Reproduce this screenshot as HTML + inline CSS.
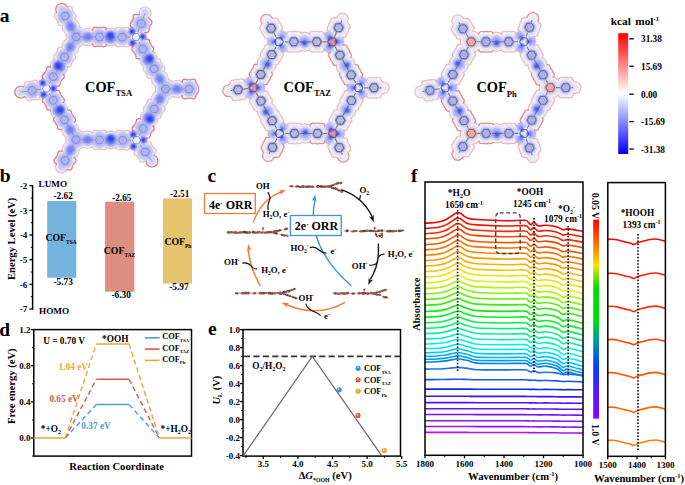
<!DOCTYPE html>
<html><head><meta charset="utf-8"><style>
html,body{margin:0;padding:0;background:#fff;width:685px;height:485px;overflow:hidden}
svg{display:block}
text{font-family:"Liberation Serif",serif;font-weight:bold}
</style></head><body>
<svg width="685" height="485" viewBox="0 0 685 485" font-family="Liberation Serif" font-weight="bold">
<defs>
<filter id="blur1" x="-20%" y="-20%" width="140%" height="140%"><feGaussianBlur stdDeviation="1"/></filter>
<filter id="blur05" x="-20%" y="-20%" width="140%" height="140%"><feGaussianBlur stdDeviation="0.5"/></filter>
<filter id="blur08" x="-20%" y="-20%" width="140%" height="140%"><feGaussianBlur stdDeviation="0.8"/></filter>
<filter id="blur15" x="-20%" y="-20%" width="140%" height="140%"><feGaussianBlur stdDeviation="1.5"/></filter>
<filter id="blur03" x="-20%" y="-20%" width="140%" height="140%"><feGaussianBlur stdDeviation="0.3"/></filter>
<filter id="blur07" x="-20%" y="-20%" width="140%" height="140%"><feGaussianBlur stdDeviation="0.7"/></filter>
<filter id="blur12" x="-20%" y="-20%" width="140%" height="140%"><feGaussianBlur stdDeviation="1.2"/></filter>
<linearGradient id="cbar" x1="0" y1="0" x2="0" y2="1">
<stop offset="0" stop-color="#ff0000"/><stop offset="0.5" stop-color="#ffffff"/><stop offset="1" stop-color="#0000ff"/>
</linearGradient>
<linearGradient id="rainbow" x1="0" y1="0" x2="0" y2="1">
<stop offset="0" stop-color="#ff0000"/><stop offset="0.14" stop-color="#ff8000"/><stop offset="0.23" stop-color="#ffe000"/>
<stop offset="0.34" stop-color="#00e000"/><stop offset="0.50" stop-color="#00e000"/><stop offset="0.6" stop-color="#00a0a0"/>
<stop offset="0.73" stop-color="#0040ff"/><stop offset="0.84" stop-color="#4020ff"/><stop offset="1" stop-color="#9000ff"/>
</linearGradient>
</defs>
<rect width="685" height="485" fill="#fff"/>
<text x="-0.2" y="22.4" font-size="19.5" text-anchor="start" fill="#000" >a</text>
<g fill="#e8c4c8" filter="url(#blur05)"><circle cx="87.6" cy="36.9" r="9.2"/><circle cx="110.6" cy="37.0" r="9.4"/><circle cx="122.2" cy="37.0" r="10.1"/><circle cx="126.3" cy="44.3" r="3.3"/><circle cx="118.1" cy="44.2" r="3.3"/><circle cx="126.4" cy="29.9" r="3.3"/><circle cx="118.2" cy="29.8" r="3.3"/><circle cx="159.9" cy="79.1" r="9.2"/><circle cx="154.0" cy="68.8" r="10.1"/><circle cx="158.2" cy="61.6" r="3.3"/><circle cx="162.3" cy="68.8" r="3.3"/><circle cx="145.7" cy="68.7" r="3.3"/><circle cx="149.8" cy="75.9" r="3.3"/><circle cx="148.5" cy="59.2" r="9.4"/><circle cx="160.0" cy="98.7" r="9.2"/><circle cx="154.2" cy="109.0" r="10.1"/><circle cx="145.9" cy="109.1" r="3.3"/><circle cx="150.0" cy="101.9" r="3.3"/><circle cx="158.5" cy="116.1" r="3.3"/><circle cx="162.5" cy="109.0" r="3.3"/><circle cx="148.9" cy="118.5" r="9.4"/><circle cx="87.5" cy="139.8" r="9.2"/><circle cx="99.6" cy="139.9" r="10.1"/><circle cx="103.7" cy="147.2" r="3.3"/><circle cx="95.4" cy="147.1" r="3.3"/><circle cx="103.8" cy="132.8" r="3.3"/><circle cx="95.6" cy="132.7" r="3.3"/><circle cx="110.8" cy="140.0" r="9.4"/><circle cx="122.7" cy="140.2" r="10.1"/><circle cx="126.7" cy="147.4" r="3.3"/><circle cx="118.5" cy="147.3" r="3.3"/><circle cx="126.9" cy="133.0" r="3.3"/><circle cx="118.6" cy="132.9" r="3.3"/><circle cx="70.4" cy="130.0" r="9.2"/><circle cx="59.0" cy="110.3" r="9.4"/><circle cx="70.6" cy="46.6" r="9.2"/><circle cx="64.6" cy="57.0" r="10.1"/><circle cx="56.3" cy="57.0" r="3.3"/><circle cx="60.4" cy="49.8" r="3.3"/><circle cx="68.8" cy="64.1" r="3.3"/><circle cx="72.9" cy="57.0" r="3.3"/><circle cx="59.1" cy="66.5" r="9.4"/><circle cx="70.8" cy="26.6" r="9.2"/><circle cx="65.2" cy="16.0" r="10.1"/><circle cx="69.7" cy="9.0" r="3.3"/><circle cx="73.5" cy="16.3" r="3.3"/><circle cx="56.9" cy="15.7" r="3.3"/><circle cx="60.8" cy="23.0" r="3.3"/><circle cx="76.2" cy="36.8" r="10.8"/><circle cx="145.2" cy="12.8" r="6.6"/><circle cx="136.0" cy="37.1" r="10.8"/><circle cx="177.0" cy="89.0" r="9.2"/><circle cx="193.0" cy="89.0" r="6.6"/><circle cx="165.5" cy="89.0" r="10.8"/><circle cx="145.3" cy="151.9" r="10.1"/><circle cx="141.9" cy="159.5" r="3.3"/><circle cx="137.0" cy="152.9" r="3.3"/><circle cx="153.5" cy="150.9" r="3.3"/><circle cx="148.6" cy="144.3" r="3.3"/><circle cx="136.6" cy="140.3" r="10.8"/><circle cx="70.6" cy="149.9" r="9.2"/><circle cx="61.5" cy="167.1" r="6.6"/><circle cx="76.0" cy="139.7" r="10.8"/><circle cx="32.1" cy="90.5" r="10.1"/><circle cx="27.1" cy="84.0" r="3.3"/><circle cx="35.2" cy="82.8" r="3.3"/><circle cx="29.1" cy="98.2" r="3.3"/><circle cx="37.2" cy="97.1" r="3.3"/><circle cx="46.5" cy="88.5" r="10.8"/></g>
<g fill="#e07c7c" filter="url(#blur07)"><circle cx="99.5" cy="36.9" r="10.1"/><circle cx="103.6" cy="44.1" r="3.3"/><circle cx="95.4" cy="44.1" r="3.3"/><circle cx="103.7" cy="29.7" r="3.3"/><circle cx="95.4" cy="29.7" r="3.3"/><circle cx="142.8" cy="49.0" r="10.1"/><circle cx="147.0" cy="41.9" r="3.3"/><circle cx="151.1" cy="49.1" r="3.3"/><circle cx="134.5" cy="49.0" r="3.3"/><circle cx="138.6" cy="56.2" r="3.3"/><circle cx="143.2" cy="128.5" r="10.1"/><circle cx="134.9" cy="128.6" r="3.3"/><circle cx="139.0" cy="121.4" r="3.3"/><circle cx="147.5" cy="135.6" r="3.3"/><circle cx="151.5" cy="128.4" r="3.3"/><circle cx="64.5" cy="119.7" r="10.1"/><circle cx="68.7" cy="112.6" r="3.3"/><circle cx="72.8" cy="119.7" r="3.3"/><circle cx="56.2" cy="119.7" r="3.3"/><circle cx="60.3" cy="126.9" r="3.3"/><circle cx="53.3" cy="100.3" r="10.1"/><circle cx="57.5" cy="93.1" r="3.3"/><circle cx="61.6" cy="100.2" r="3.3"/><circle cx="45.0" cy="100.3" r="3.3"/><circle cx="49.1" cy="107.4" r="3.3"/><circle cx="53.3" cy="76.6" r="10.1"/><circle cx="45.0" cy="76.6" r="3.3"/><circle cx="49.1" cy="69.4" r="3.3"/><circle cx="57.5" cy="83.8" r="3.3"/><circle cx="61.6" cy="76.6" r="3.3"/><circle cx="61.7" cy="9.4" r="6.6"/><circle cx="141.1" cy="23.5" r="10.1"/><circle cx="149.3" cy="22.2" r="3.3"/><circle cx="146.4" cy="29.9" r="3.3"/><circle cx="135.8" cy="17.1" r="3.3"/><circle cx="132.9" cy="24.8" r="3.3"/><circle cx="189.0" cy="89.0" r="10.1"/><circle cx="193.1" cy="96.2" r="3.3"/><circle cx="184.9" cy="96.2" r="3.3"/><circle cx="193.1" cy="81.8" r="3.3"/><circle cx="184.9" cy="81.8" r="3.3"/><circle cx="152.0" cy="161.0" r="6.6"/><circle cx="65.0" cy="160.5" r="10.1"/><circle cx="56.7" cy="160.7" r="3.3"/><circle cx="60.6" cy="153.5" r="3.3"/><circle cx="69.4" cy="167.5" r="3.3"/><circle cx="73.3" cy="160.2" r="3.3"/><circle cx="20.8" cy="92.1" r="6.6"/></g>
<g fill="#f5f4f8" filter="url(#blur07)"><circle cx="87.6" cy="36.9" r="7.9"/><circle cx="99.5" cy="36.9" r="8.8"/><circle cx="103.5" cy="44.0" r="2.2"/><circle cx="95.5" cy="43.9" r="2.2"/><circle cx="103.6" cy="29.9" r="2.2"/><circle cx="95.5" cy="29.9" r="2.2"/><circle cx="110.6" cy="37.0" r="8.1"/><circle cx="122.2" cy="37.0" r="8.8"/><circle cx="126.2" cy="44.1" r="2.2"/><circle cx="118.2" cy="44.0" r="2.2"/><circle cx="126.3" cy="30.0" r="2.2"/><circle cx="118.3" cy="30.0" r="2.2"/><circle cx="159.9" cy="79.1" r="7.9"/><circle cx="154.0" cy="68.8" r="8.8"/><circle cx="158.1" cy="61.8" r="2.2"/><circle cx="162.1" cy="68.8" r="2.2"/><circle cx="145.9" cy="68.7" r="2.2"/><circle cx="149.9" cy="75.7" r="2.2"/><circle cx="148.5" cy="59.2" r="8.1"/><circle cx="142.8" cy="49.0" r="8.8"/><circle cx="146.9" cy="42.1" r="2.2"/><circle cx="150.9" cy="49.1" r="2.2"/><circle cx="134.7" cy="49.0" r="2.2"/><circle cx="138.7" cy="56.0" r="2.2"/><circle cx="160.0" cy="98.7" r="7.9"/><circle cx="154.2" cy="109.0" r="8.8"/><circle cx="146.1" cy="109.1" r="2.2"/><circle cx="150.1" cy="102.1" r="2.2"/><circle cx="158.4" cy="116.0" r="2.2"/><circle cx="162.3" cy="109.0" r="2.2"/><circle cx="148.9" cy="118.5" r="8.1"/><circle cx="143.2" cy="128.5" r="8.8"/><circle cx="135.1" cy="128.6" r="2.2"/><circle cx="139.1" cy="121.5" r="2.2"/><circle cx="147.4" cy="135.5" r="2.2"/><circle cx="151.3" cy="128.5" r="2.2"/><circle cx="87.5" cy="139.8" r="7.9"/><circle cx="99.6" cy="139.9" r="8.8"/><circle cx="103.6" cy="147.0" r="2.2"/><circle cx="95.5" cy="146.9" r="2.2"/><circle cx="103.7" cy="132.9" r="2.2"/><circle cx="95.7" cy="132.9" r="2.2"/><circle cx="110.8" cy="140.0" r="8.1"/><circle cx="122.7" cy="140.2" r="8.8"/><circle cx="126.6" cy="147.2" r="2.2"/><circle cx="118.6" cy="147.2" r="2.2"/><circle cx="126.8" cy="133.2" r="2.2"/><circle cx="118.7" cy="133.1" r="2.2"/><circle cx="70.4" cy="130.0" r="7.9"/><circle cx="64.5" cy="119.7" r="8.8"/><circle cx="68.6" cy="112.7" r="2.2"/><circle cx="72.6" cy="119.7" r="2.2"/><circle cx="56.4" cy="119.7" r="2.2"/><circle cx="60.4" cy="126.7" r="2.2"/><circle cx="59.0" cy="110.3" r="8.1"/><circle cx="53.3" cy="100.3" r="8.8"/><circle cx="57.4" cy="93.3" r="2.2"/><circle cx="61.4" cy="100.2" r="2.2"/><circle cx="45.2" cy="100.3" r="2.2"/><circle cx="49.2" cy="107.3" r="2.2"/><circle cx="70.6" cy="46.6" r="7.9"/><circle cx="64.6" cy="57.0" r="8.8"/><circle cx="56.5" cy="57.0" r="2.2"/><circle cx="60.5" cy="50.0" r="2.2"/><circle cx="68.7" cy="64.0" r="2.2"/><circle cx="72.7" cy="57.0" r="2.2"/><circle cx="59.1" cy="66.5" r="8.1"/><circle cx="53.3" cy="76.6" r="8.8"/><circle cx="45.2" cy="76.6" r="2.2"/><circle cx="49.2" cy="69.6" r="2.2"/><circle cx="57.4" cy="83.6" r="2.2"/><circle cx="61.4" cy="76.6" r="2.2"/><circle cx="70.8" cy="26.6" r="7.9"/><circle cx="65.2" cy="16.0" r="8.8"/><circle cx="69.6" cy="9.2" r="2.2"/><circle cx="73.3" cy="16.3" r="2.2"/><circle cx="57.1" cy="15.7" r="2.2"/><circle cx="60.9" cy="22.9" r="2.2"/><circle cx="61.7" cy="9.4" r="5.3"/><circle cx="76.2" cy="36.8" r="9.5"/><circle cx="141.1" cy="23.5" r="8.8"/><circle cx="149.1" cy="22.2" r="2.2"/><circle cx="146.3" cy="29.8" r="2.2"/><circle cx="136.0" cy="17.3" r="2.2"/><circle cx="133.1" cy="24.8" r="2.2"/><circle cx="145.2" cy="12.8" r="5.3"/><circle cx="136.0" cy="37.1" r="9.5"/><circle cx="177.0" cy="89.0" r="7.9"/><circle cx="189.0" cy="89.0" r="8.8"/><circle cx="193.0" cy="96.0" r="2.2"/><circle cx="185.0" cy="96.0" r="2.2"/><circle cx="193.0" cy="82.0" r="2.2"/><circle cx="185.0" cy="82.0" r="2.2"/><circle cx="193.0" cy="89.0" r="5.3"/><circle cx="165.5" cy="89.0" r="9.5"/><circle cx="145.3" cy="151.9" r="8.8"/><circle cx="142.0" cy="159.4" r="2.2"/><circle cx="137.2" cy="152.9" r="2.2"/><circle cx="153.3" cy="151.0" r="2.2"/><circle cx="148.5" cy="144.5" r="2.2"/><circle cx="152.0" cy="161.0" r="5.3"/><circle cx="136.6" cy="140.3" r="9.5"/><circle cx="70.6" cy="149.9" r="7.9"/><circle cx="65.0" cy="160.5" r="8.8"/><circle cx="56.9" cy="160.7" r="2.2"/><circle cx="60.7" cy="153.6" r="2.2"/><circle cx="69.3" cy="167.3" r="2.2"/><circle cx="73.1" cy="160.2" r="2.2"/><circle cx="61.5" cy="167.1" r="5.3"/><circle cx="76.0" cy="139.7" r="9.5"/><circle cx="32.1" cy="90.5" r="8.8"/><circle cx="27.2" cy="84.1" r="2.2"/><circle cx="35.1" cy="83.0" r="2.2"/><circle cx="29.1" cy="98.0" r="2.2"/><circle cx="37.1" cy="96.9" r="2.2"/><circle cx="20.8" cy="92.1" r="5.3"/><circle cx="46.5" cy="88.5" r="9.5"/></g>
<g fill="#cdd0f6" filter="url(#blur1)"><circle cx="87.6" cy="36.9" r="6.6"/><circle cx="99.5" cy="36.9" r="7.5"/><circle cx="110.6" cy="37.0" r="6.8"/><circle cx="122.2" cy="37.0" r="7.5"/><circle cx="159.9" cy="79.1" r="6.6"/><circle cx="154.0" cy="68.8" r="7.5"/><circle cx="148.5" cy="59.2" r="6.8"/><circle cx="142.8" cy="49.0" r="7.5"/><circle cx="160.0" cy="98.7" r="6.6"/><circle cx="154.2" cy="109.0" r="7.5"/><circle cx="148.9" cy="118.5" r="6.8"/><circle cx="143.2" cy="128.5" r="7.5"/><circle cx="87.5" cy="139.8" r="6.6"/><circle cx="99.6" cy="139.9" r="7.5"/><circle cx="110.8" cy="140.0" r="6.8"/><circle cx="122.7" cy="140.2" r="7.5"/><circle cx="70.4" cy="130.0" r="6.6"/><circle cx="64.5" cy="119.7" r="7.5"/><circle cx="59.0" cy="110.3" r="6.8"/><circle cx="53.3" cy="100.3" r="7.5"/><circle cx="70.6" cy="46.6" r="6.6"/><circle cx="64.6" cy="57.0" r="7.5"/><circle cx="59.1" cy="66.5" r="6.8"/><circle cx="53.3" cy="76.6" r="7.5"/><circle cx="70.8" cy="26.6" r="6.6"/><circle cx="65.2" cy="16.0" r="7.5"/><circle cx="61.7" cy="9.4" r="4.0"/><circle cx="76.2" cy="36.8" r="8.2"/><circle cx="141.1" cy="23.5" r="7.5"/><circle cx="145.2" cy="12.8" r="4.0"/><circle cx="136.0" cy="37.1" r="8.2"/><circle cx="177.0" cy="89.0" r="6.6"/><circle cx="189.0" cy="89.0" r="7.5"/><circle cx="193.0" cy="89.0" r="4.0"/><circle cx="165.5" cy="89.0" r="8.2"/><circle cx="145.3" cy="151.9" r="7.5"/><circle cx="152.0" cy="161.0" r="4.0"/><circle cx="136.6" cy="140.3" r="8.2"/><circle cx="70.6" cy="149.9" r="6.6"/><circle cx="65.0" cy="160.5" r="7.5"/><circle cx="61.5" cy="167.1" r="4.0"/><circle cx="76.0" cy="139.7" r="8.2"/><circle cx="32.1" cy="90.5" r="7.5"/><circle cx="20.8" cy="92.1" r="4.0"/><circle cx="46.5" cy="88.5" r="8.2"/></g>
<g filter="url(#blur15)"><ellipse cx="87.6" cy="36.9" rx="6.2" ry="4.0" transform="rotate(0.3 87.6 36.9)" fill="#6e7ef1"/><circle cx="99.5" cy="36.9" r="7.6" fill="#b9bdf3"/><circle cx="110.6" cy="37.0" r="6" fill="#7482f2"/><circle cx="122.2" cy="37.0" r="7.6" fill="#b9bdf3"/><ellipse cx="159.9" cy="79.1" rx="6.2" ry="4.0" transform="rotate(-119.6 159.9 79.1)" fill="#6e7ef1"/><circle cx="154.0" cy="68.8" r="7.6" fill="#b9bdf3"/><circle cx="148.5" cy="59.2" r="6" fill="#7482f2"/><circle cx="142.8" cy="49.0" r="7.6" fill="#b9bdf3"/><ellipse cx="160.0" cy="98.7" rx="6.2" ry="4.0" transform="rotate(119.4 160.0 98.7)" fill="#6e7ef1"/><circle cx="154.2" cy="109.0" r="7.6" fill="#b9bdf3"/><circle cx="148.9" cy="118.5" r="6" fill="#7482f2"/><circle cx="143.2" cy="128.5" r="7.6" fill="#b9bdf3"/><ellipse cx="87.5" cy="139.8" rx="6.2" ry="4.0" transform="rotate(0.6 87.5 139.8)" fill="#6e7ef1"/><circle cx="99.6" cy="139.9" r="7.6" fill="#b9bdf3"/><circle cx="110.8" cy="140.0" r="6" fill="#7482f2"/><circle cx="122.7" cy="140.2" r="7.6" fill="#b9bdf3"/><ellipse cx="70.4" cy="130.0" rx="6.2" ry="4.0" transform="rotate(-119.9 70.4 130.0)" fill="#6e7ef1"/><circle cx="64.5" cy="119.7" r="7.6" fill="#b9bdf3"/><circle cx="59.0" cy="110.3" r="6" fill="#7482f2"/><circle cx="53.3" cy="100.3" r="7.6" fill="#b9bdf3"/><ellipse cx="70.6" cy="46.6" rx="6.2" ry="4.0" transform="rotate(119.9 70.6 46.6)" fill="#6e7ef1"/><circle cx="64.6" cy="57.0" r="7.6" fill="#b9bdf3"/><circle cx="59.1" cy="66.5" r="6" fill="#7482f2"/><circle cx="53.3" cy="76.6" r="7.6" fill="#b9bdf3"/><ellipse cx="70.8" cy="26.6" rx="6.2" ry="4.0" transform="rotate(-117.8 70.8 26.6)" fill="#6e7ef1"/><circle cx="65.2" cy="16.0" r="7.6" fill="#b9bdf3"/><circle cx="76.2" cy="36.8" r="7.6" fill="#b9bdf3"/><circle cx="141.1" cy="23.5" r="7.6" fill="#b9bdf3"/><ellipse cx="177.0" cy="89.0" rx="6.2" ry="4.0" transform="rotate(0.0 177.0 89.0)" fill="#6e7ef1"/><circle cx="189.0" cy="89.0" r="7.6" fill="#b9bdf3"/><circle cx="165.5" cy="89.0" r="7.6" fill="#b9bdf3"/><circle cx="145.3" cy="151.9" r="7.6" fill="#b9bdf3"/><ellipse cx="70.6" cy="149.9" rx="6.2" ry="4.0" transform="rotate(117.9 70.6 149.9)" fill="#6e7ef1"/><circle cx="65.0" cy="160.5" r="7.6" fill="#b9bdf3"/><circle cx="76.0" cy="139.7" r="7.6" fill="#b9bdf3"/><circle cx="32.1" cy="90.5" r="7.6" fill="#b9bdf3"/></g>
<path d="M76.2,36.8 L136.0,37.1 M76.2,36.8 L64.5,14.7 M136.0,37.1 L165.5,89.0 M136.0,37.1 L144.8,13.7 M165.5,89.0 L136.6,140.3 M165.5,89.0 L190.5,89.0 M136.6,140.3 L76.0,139.7 M136.6,140.3 L151.5,160.4 M76.0,139.7 L46.5,88.5 M76.0,139.7 L64.3,161.8 M46.5,88.5 L76.2,36.8 M46.5,88.5 L21.7,92.0 " fill="none" stroke="#8386c4" stroke-width="0.8" opacity="0.9" filter="url(#blur03)"/>
<g filter="url(#blur03)"><circle cx="99.5" cy="36.9" r="5.2" fill="#aeb3f1"/><polygon points="103.7,36.9 101.6,40.6 97.4,40.5 95.3,36.9 97.4,33.3 101.6,33.3" fill="none" stroke="#8386c4" stroke-width="0.8"/><circle cx="122.2" cy="37.0" r="5.2" fill="#aeb3f1"/><polygon points="126.4,37.1 124.3,40.7 120.1,40.7 118.0,37.0 120.2,33.4 124.4,33.4" fill="none" stroke="#8386c4" stroke-width="0.8"/><circle cx="154.0" cy="68.8" r="5.2" fill="#aeb3f1"/><polygon points="151.9,65.1 156.1,65.1 158.2,68.8 156.1,72.4 151.9,72.4 149.8,68.7" fill="none" stroke="#8386c4" stroke-width="0.8"/><circle cx="142.8" cy="49.0" r="5.2" fill="#aeb3f1"/><polygon points="140.7,45.4 144.9,45.4 147.0,49.1 144.9,52.7 140.7,52.7 138.6,49.0" fill="none" stroke="#8386c4" stroke-width="0.8"/><circle cx="154.2" cy="109.0" r="5.2" fill="#aeb3f1"/><polygon points="152.2,112.7 150.0,109.1 152.1,105.4 156.3,105.3 158.4,109.0 156.4,112.6" fill="none" stroke="#8386c4" stroke-width="0.8"/><circle cx="143.2" cy="128.5" r="5.2" fill="#aeb3f1"/><polygon points="141.2,132.2 139.0,128.5 141.1,124.9 145.3,124.8 147.4,128.5 145.4,132.1" fill="none" stroke="#8386c4" stroke-width="0.8"/><circle cx="99.6" cy="139.9" r="5.2" fill="#aeb3f1"/><polygon points="103.8,140.0 101.7,143.6 97.5,143.6 95.4,139.9 97.6,136.3 101.8,136.3" fill="none" stroke="#8386c4" stroke-width="0.8"/><circle cx="122.7" cy="140.2" r="5.2" fill="#aeb3f1"/><polygon points="126.9,140.2 124.7,143.8 120.5,143.8 118.5,140.1 120.6,136.5 124.8,136.5" fill="none" stroke="#8386c4" stroke-width="0.8"/><circle cx="64.5" cy="119.7" r="5.2" fill="#aeb3f1"/><polygon points="62.4,116.1 66.6,116.1 68.7,119.7 66.6,123.4 62.4,123.4 60.3,119.7" fill="none" stroke="#8386c4" stroke-width="0.8"/><circle cx="53.3" cy="100.3" r="5.2" fill="#aeb3f1"/><polygon points="51.2,96.6 55.4,96.6 57.5,100.3 55.4,103.9 51.2,103.9 49.1,100.3" fill="none" stroke="#8386c4" stroke-width="0.8"/><circle cx="64.6" cy="57.0" r="5.2" fill="#aeb3f1"/><polygon points="62.5,60.6 60.4,57.0 62.5,53.3 66.7,53.3 68.8,57.0 66.7,60.6" fill="none" stroke="#8386c4" stroke-width="0.8"/><circle cx="53.3" cy="76.6" r="5.2" fill="#aeb3f1"/><polygon points="51.2,80.3 49.1,76.6 51.2,73.0 55.4,73.0 57.5,76.6 55.4,80.2" fill="none" stroke="#8386c4" stroke-width="0.8"/><circle cx="65.2" cy="16.0" r="5.2" fill="#aeb3f1"/><polygon points="63.3,12.3 67.5,12.5 69.4,16.2 67.2,19.7 63.0,19.6 61.0,15.9" fill="none" stroke="#8386c4" stroke-width="0.8"/><circle cx="76.2" cy="36.8" r="5.2" fill="#a9aef0"/><polygon points="80.4,36.8 78.3,40.4 74.1,40.4 72.0,36.8 74.1,33.2 78.3,33.2" fill="none" stroke="#8386c4" stroke-width="0.8"/><circle cx="141.1" cy="23.5" r="5.2" fill="#aeb3f1"/><polygon points="142.6,19.6 145.3,22.8 143.8,26.8 139.6,27.5 137.0,24.2 138.4,20.3" fill="none" stroke="#8386c4" stroke-width="0.8"/><circle cx="136.0" cy="37.1" r="5.2" fill="#f2f2fa"/><polygon points="140.2,37.1 138.1,40.7 133.9,40.7 131.8,37.1 133.9,33.5 138.1,33.5" fill="none" stroke="#8386c4" stroke-width="0.8"/><circle cx="189.0" cy="89.0" r="5.2" fill="#aeb3f1"/><polygon points="193.2,89.0 191.1,92.6 186.9,92.6 184.8,89.0 186.9,85.4 191.1,85.4" fill="none" stroke="#8386c4" stroke-width="0.8"/><circle cx="165.5" cy="89.0" r="5.2" fill="#a9aef0"/><polygon points="169.7,89.0 167.6,92.6 163.4,92.6 161.3,89.0 163.4,85.4 167.6,85.4" fill="none" stroke="#8386c4" stroke-width="0.8"/><circle cx="145.3" cy="151.9" r="5.2" fill="#aeb3f1"/><polygon points="147.8,155.3 143.6,155.8 141.1,152.4 142.7,148.6 146.9,148.1 149.4,151.4" fill="none" stroke="#8386c4" stroke-width="0.8"/><circle cx="136.6" cy="140.3" r="5.2" fill="#f2f2fa"/><polygon points="140.8,140.3 138.7,143.9 134.5,143.9 132.4,140.3 134.5,136.7 138.7,136.7" fill="none" stroke="#8386c4" stroke-width="0.8"/><circle cx="65.0" cy="160.5" r="5.2" fill="#aeb3f1"/><polygon points="63.0,164.2 60.8,160.6 62.8,156.9 67.0,156.8 69.2,160.3 67.2,164.0" fill="none" stroke="#8386c4" stroke-width="0.8"/><circle cx="76.0" cy="139.7" r="5.2" fill="#a9aef0"/><polygon points="80.2,139.7 78.1,143.3 73.9,143.3 71.8,139.7 73.9,136.1 78.1,136.1" fill="none" stroke="#8386c4" stroke-width="0.8"/><circle cx="32.1" cy="90.5" r="5.2" fill="#aeb3f1"/><polygon points="28.0,91.1 29.6,87.2 33.7,86.6 36.3,89.9 34.7,93.8 30.6,94.4" fill="none" stroke="#8386c4" stroke-width="0.8"/><circle cx="46.5" cy="88.5" r="5.2" fill="#f2f2fa"/><polygon points="50.7,88.5 48.6,92.1 44.4,92.1 42.3,88.5 44.4,84.9 48.6,84.9" fill="none" stroke="#8386c4" stroke-width="0.8"/></g>
<g filter="url(#blur1)"><circle cx="110.6" cy="35.8" r="3.3" fill="#3040ea"/><circle cx="149.6" cy="58.6" r="3.3" fill="#3040ea"/><circle cx="149.9" cy="119.1" r="3.3" fill="#3040ea"/><circle cx="110.9" cy="138.8" r="3.3" fill="#3040ea"/><circle cx="60.1" cy="109.7" r="3.3" fill="#3040ea"/><circle cx="58.1" cy="65.9" r="3.3" fill="#3040ea"/><circle cx="132.6" cy="43.0" r="2.9" fill="#3040ea"/><circle cx="132.1" cy="31.5" r="2.9" fill="#3040ea"/><circle cx="142.8" cy="36.6" r="2.9" fill="#3040ea"/><circle cx="133.2" cy="134.4" r="2.9" fill="#3040ea"/><circle cx="143.4" cy="139.9" r="2.9" fill="#3040ea"/><circle cx="133.5" cy="146.4" r="2.9" fill="#3040ea"/><circle cx="53.3" cy="88.5" r="2.9" fill="#3040ea"/><circle cx="43.5" cy="94.6" r="2.9" fill="#3040ea"/><circle cx="42.7" cy="82.9" r="2.9" fill="#3040ea"/></g>
<text x="85.0" y="91.5" font-size="14.4">COF<tspan dy="4.5" font-size="8.6">TSA</tspan></text>
<g fill="#ecbebe" filter="url(#blur05)"><circle cx="293.9" cy="41.8" r="11.0"/><circle cx="298.2" cy="49.4" r="3.3"/><circle cx="289.5" cy="49.4" r="3.3"/><circle cx="298.2" cy="34.2" r="3.3"/><circle cx="289.5" cy="34.2" r="3.3"/><circle cx="304.5" cy="41.8" r="10.2"/><circle cx="316.8" cy="41.8" r="11.0"/><circle cx="321.2" cy="49.4" r="3.3"/><circle cx="312.4" cy="49.4" r="3.3"/><circle cx="321.2" cy="34.2" r="3.3"/><circle cx="312.4" cy="34.2" r="3.3"/><circle cx="345.9" cy="65.7" r="10.2"/><circle cx="351.4" cy="100.6" r="11.0"/><circle cx="342.6" cy="100.7" r="3.3"/><circle cx="346.8" cy="93.1" r="3.3"/><circle cx="355.9" cy="108.1" r="3.3"/><circle cx="360.2" cy="100.5" r="3.3"/><circle cx="346.3" cy="109.7" r="10.2"/><circle cx="340.4" cy="120.2" r="11.0"/><circle cx="331.6" cy="120.4" r="3.3"/><circle cx="335.9" cy="112.7" r="3.3"/><circle cx="344.9" cy="127.8" r="3.3"/><circle cx="349.2" cy="120.2" r="3.3"/><circle cx="294.5" cy="133.5" r="11.0"/><circle cx="298.9" cy="141.1" r="3.3"/><circle cx="290.1" cy="141.1" r="3.3"/><circle cx="298.9" cy="125.9" r="3.3"/><circle cx="290.1" cy="125.9" r="3.3"/><circle cx="305.2" cy="133.5" r="10.2"/><circle cx="272.2" cy="120.7" r="11.0"/><circle cx="276.6" cy="113.1" r="3.3"/><circle cx="281.0" cy="120.7" r="3.3"/><circle cx="263.4" cy="120.7" r="3.3"/><circle cx="267.7" cy="128.3" r="3.3"/><circle cx="267.0" cy="111.6" r="10.2"/><circle cx="261.0" cy="101.1" r="11.0"/><circle cx="265.4" cy="93.5" r="3.3"/><circle cx="269.8" cy="101.1" r="3.3"/><circle cx="252.2" cy="101.0" r="3.3"/><circle cx="256.5" cy="108.6" r="3.3"/><circle cx="271.8" cy="54.7" r="11.0"/><circle cx="263.0" cy="54.8" r="3.3"/><circle cx="267.2" cy="47.2" r="3.3"/><circle cx="276.3" cy="62.2" r="3.3"/><circle cx="280.6" cy="54.6" r="3.3"/><circle cx="266.7" cy="63.9" r="10.2"/><circle cx="271.2" cy="28.3" r="11.0"/><circle cx="275.7" cy="20.7" r="3.3"/><circle cx="280.0" cy="28.3" r="3.3"/><circle cx="262.4" cy="28.3" r="3.3"/><circle cx="266.8" cy="35.9" r="3.3"/><circle cx="278.9" cy="41.8" r="11.6"/><circle cx="338.6" cy="27.6" r="11.0"/><circle cx="347.4" cy="26.7" r="3.3"/><circle cx="343.8" cy="34.7" r="3.3"/><circle cx="333.4" cy="20.5" r="3.3"/><circle cx="329.8" cy="28.5" r="3.3"/><circle cx="342.5" cy="19.0" r="6.4"/><circle cx="332.3" cy="41.8" r="11.6"/><circle cx="374.0" cy="87.8" r="11.0"/><circle cx="378.4" cy="95.4" r="3.3"/><circle cx="369.6" cy="95.4" r="3.3"/><circle cx="378.4" cy="80.2" r="3.3"/><circle cx="369.6" cy="80.2" r="3.3"/><circle cx="383.5" cy="87.8" r="6.4"/><circle cx="358.5" cy="87.8" r="11.6"/><circle cx="339.3" cy="147.7" r="11.0"/><circle cx="334.1" cy="154.8" r="3.3"/><circle cx="330.5" cy="146.8" r="3.3"/><circle cx="348.1" cy="148.6" r="3.3"/><circle cx="344.5" cy="140.6" r="3.3"/><circle cx="333.0" cy="133.5" r="11.6"/><circle cx="279.5" cy="133.5" r="11.6"/><circle cx="238.0" cy="89.7" r="11.0"/><circle cx="232.7" cy="82.7" r="3.3"/><circle cx="241.4" cy="81.6" r="3.3"/><circle cx="234.6" cy="97.9" r="3.3"/><circle cx="243.3" cy="96.8" r="3.3"/><circle cx="253.4" cy="87.8" r="11.6"/></g>
<g fill="#e49090" filter="url(#blur07)"><circle cx="351.2" cy="74.9" r="11.0"/><circle cx="355.6" cy="67.3" r="3.3"/><circle cx="360.0" cy="74.9" r="3.3"/><circle cx="342.4" cy="74.9" r="3.3"/><circle cx="346.7" cy="82.5" r="3.3"/><circle cx="339.9" cy="55.1" r="11.0"/><circle cx="344.4" cy="47.6" r="3.3"/><circle cx="348.7" cy="55.2" r="3.3"/><circle cx="331.1" cy="55.1" r="3.3"/><circle cx="335.4" cy="62.7" r="3.3"/><circle cx="317.5" cy="133.5" r="11.0"/><circle cx="321.9" cy="141.1" r="3.3"/><circle cx="313.1" cy="141.1" r="3.3"/><circle cx="321.9" cy="125.9" r="3.3"/><circle cx="313.1" cy="125.9" r="3.3"/><circle cx="260.8" cy="74.5" r="11.0"/><circle cx="252.0" cy="74.6" r="3.3"/><circle cx="256.2" cy="66.9" r="3.3"/><circle cx="265.3" cy="82.0" r="3.3"/><circle cx="269.6" cy="74.3" r="3.3"/><circle cx="266.6" cy="20.1" r="6.4"/><circle cx="343.2" cy="156.3" r="6.4"/><circle cx="272.5" cy="147.4" r="11.0"/><circle cx="263.8" cy="147.8" r="3.3"/><circle cx="267.7" cy="140.0" r="3.3"/><circle cx="277.4" cy="154.7" r="3.3"/><circle cx="281.3" cy="146.9" r="3.3"/><circle cx="268.3" cy="155.8" r="6.4"/><circle cx="228.6" cy="90.9" r="6.4"/></g>
<g fill="#f5f4f8" filter="url(#blur07)"><circle cx="293.9" cy="41.8" r="9.7"/><circle cx="298.1" cy="49.3" r="2.2"/><circle cx="289.6" cy="49.3" r="2.2"/><circle cx="298.1" cy="34.3" r="2.2"/><circle cx="289.6" cy="34.3" r="2.2"/><circle cx="304.5" cy="41.8" r="8.9"/><circle cx="316.8" cy="41.8" r="9.7"/><circle cx="321.1" cy="49.3" r="2.2"/><circle cx="312.5" cy="49.3" r="2.2"/><circle cx="321.1" cy="34.3" r="2.2"/><circle cx="312.5" cy="34.3" r="2.2"/><circle cx="351.2" cy="74.9" r="9.7"/><circle cx="355.5" cy="67.5" r="2.2"/><circle cx="359.8" cy="74.9" r="2.2"/><circle cx="342.6" cy="74.9" r="2.2"/><circle cx="346.8" cy="82.3" r="2.2"/><circle cx="345.9" cy="65.7" r="8.9"/><circle cx="339.9" cy="55.1" r="9.7"/><circle cx="344.3" cy="47.7" r="2.2"/><circle cx="348.5" cy="55.2" r="2.2"/><circle cx="331.3" cy="55.1" r="2.2"/><circle cx="335.5" cy="62.5" r="2.2"/><circle cx="351.4" cy="100.6" r="9.7"/><circle cx="342.8" cy="100.7" r="2.2"/><circle cx="346.9" cy="93.2" r="2.2"/><circle cx="355.8" cy="108.0" r="2.2"/><circle cx="360.0" cy="100.5" r="2.2"/><circle cx="346.3" cy="109.7" r="8.9"/><circle cx="340.4" cy="120.2" r="9.7"/><circle cx="331.8" cy="120.3" r="2.2"/><circle cx="336.0" cy="112.9" r="2.2"/><circle cx="344.8" cy="127.6" r="2.2"/><circle cx="349.0" cy="120.2" r="2.2"/><circle cx="294.5" cy="133.5" r="9.7"/><circle cx="298.8" cy="141.0" r="2.2"/><circle cx="290.2" cy="141.0" r="2.2"/><circle cx="298.8" cy="126.0" r="2.2"/><circle cx="290.2" cy="126.0" r="2.2"/><circle cx="305.2" cy="133.5" r="8.9"/><circle cx="317.5" cy="133.5" r="9.7"/><circle cx="321.8" cy="141.0" r="2.2"/><circle cx="313.2" cy="141.0" r="2.2"/><circle cx="321.8" cy="126.0" r="2.2"/><circle cx="313.2" cy="126.0" r="2.2"/><circle cx="272.2" cy="120.7" r="9.7"/><circle cx="276.5" cy="113.3" r="2.2"/><circle cx="280.8" cy="120.7" r="2.2"/><circle cx="263.6" cy="120.7" r="2.2"/><circle cx="267.8" cy="128.1" r="2.2"/><circle cx="267.0" cy="111.6" r="8.9"/><circle cx="261.0" cy="101.1" r="9.7"/><circle cx="265.3" cy="93.6" r="2.2"/><circle cx="269.6" cy="101.1" r="2.2"/><circle cx="252.4" cy="101.0" r="2.2"/><circle cx="256.6" cy="108.5" r="2.2"/><circle cx="271.8" cy="54.7" r="9.7"/><circle cx="263.2" cy="54.8" r="2.2"/><circle cx="267.3" cy="47.3" r="2.2"/><circle cx="276.2" cy="62.0" r="2.2"/><circle cx="280.4" cy="54.6" r="2.2"/><circle cx="266.7" cy="63.9" r="8.9"/><circle cx="260.8" cy="74.5" r="9.7"/><circle cx="252.2" cy="74.6" r="2.2"/><circle cx="256.3" cy="67.1" r="2.2"/><circle cx="265.2" cy="81.8" r="2.2"/><circle cx="269.4" cy="74.3" r="2.2"/><circle cx="271.2" cy="28.3" r="9.7"/><circle cx="275.6" cy="20.9" r="2.2"/><circle cx="279.8" cy="28.3" r="2.2"/><circle cx="262.6" cy="28.3" r="2.2"/><circle cx="266.9" cy="35.7" r="2.2"/><circle cx="266.6" cy="20.1" r="5.1"/><circle cx="278.9" cy="41.8" r="10.3"/><circle cx="338.6" cy="27.6" r="9.7"/><circle cx="347.2" cy="26.8" r="2.2"/><circle cx="343.7" cy="34.6" r="2.2"/><circle cx="333.5" cy="20.7" r="2.2"/><circle cx="330.0" cy="28.5" r="2.2"/><circle cx="342.5" cy="19.0" r="5.1"/><circle cx="332.3" cy="41.8" r="10.3"/><circle cx="374.0" cy="87.8" r="9.7"/><circle cx="378.3" cy="95.3" r="2.2"/><circle cx="369.7" cy="95.3" r="2.2"/><circle cx="378.3" cy="80.3" r="2.2"/><circle cx="369.7" cy="80.3" r="2.2"/><circle cx="383.5" cy="87.8" r="5.1"/><circle cx="358.5" cy="87.8" r="10.3"/><circle cx="339.3" cy="147.7" r="9.7"/><circle cx="334.2" cy="154.6" r="2.2"/><circle cx="330.7" cy="146.8" r="2.2"/><circle cx="347.9" cy="148.5" r="2.2"/><circle cx="344.4" cy="140.7" r="2.2"/><circle cx="343.2" cy="156.3" r="5.1"/><circle cx="333.0" cy="133.5" r="10.3"/><circle cx="272.5" cy="147.4" r="9.7"/><circle cx="264.0" cy="147.8" r="2.2"/><circle cx="267.8" cy="140.2" r="2.2"/><circle cx="277.3" cy="154.5" r="2.2"/><circle cx="281.1" cy="146.9" r="2.2"/><circle cx="268.3" cy="155.8" r="5.1"/><circle cx="279.5" cy="133.5" r="10.3"/><circle cx="238.0" cy="89.7" r="9.7"/><circle cx="232.8" cy="82.9" r="2.2"/><circle cx="241.3" cy="81.8" r="2.2"/><circle cx="234.7" cy="97.7" r="2.2"/><circle cx="243.2" cy="96.6" r="2.2"/><circle cx="228.6" cy="90.9" r="5.1"/><circle cx="253.4" cy="87.8" r="10.3"/></g>
<g fill="#e9e9f4" filter="url(#blur1)"><circle cx="293.9" cy="41.8" r="8.4"/><circle cx="304.5" cy="41.8" r="7.6"/><circle cx="316.8" cy="41.8" r="8.4"/><circle cx="351.2" cy="74.9" r="8.4"/><circle cx="345.9" cy="65.7" r="7.6"/><circle cx="339.9" cy="55.1" r="8.4"/><circle cx="351.4" cy="100.6" r="8.4"/><circle cx="346.3" cy="109.7" r="7.6"/><circle cx="340.4" cy="120.2" r="8.4"/><circle cx="294.5" cy="133.5" r="8.4"/><circle cx="305.2" cy="133.5" r="7.6"/><circle cx="317.5" cy="133.5" r="8.4"/><circle cx="272.2" cy="120.7" r="8.4"/><circle cx="267.0" cy="111.6" r="7.6"/><circle cx="261.0" cy="101.1" r="8.4"/><circle cx="271.8" cy="54.7" r="8.4"/><circle cx="266.7" cy="63.9" r="7.6"/><circle cx="260.8" cy="74.5" r="8.4"/><circle cx="271.2" cy="28.3" r="8.4"/><circle cx="266.6" cy="20.1" r="3.8"/><circle cx="278.9" cy="41.8" r="9.0"/><circle cx="338.6" cy="27.6" r="8.4"/><circle cx="342.5" cy="19.0" r="3.8"/><circle cx="332.3" cy="41.8" r="9.0"/><circle cx="374.0" cy="87.8" r="8.4"/><circle cx="383.5" cy="87.8" r="3.8"/><circle cx="358.5" cy="87.8" r="9.0"/><circle cx="339.3" cy="147.7" r="8.4"/><circle cx="343.2" cy="156.3" r="3.8"/><circle cx="333.0" cy="133.5" r="9.0"/><circle cx="272.5" cy="147.4" r="8.4"/><circle cx="268.3" cy="155.8" r="3.8"/><circle cx="279.5" cy="133.5" r="9.0"/><circle cx="238.0" cy="89.7" r="8.4"/><circle cx="228.6" cy="90.9" r="3.8"/><circle cx="253.4" cy="87.8" r="9.0"/></g>
<g filter="url(#blur15)"><circle cx="293.9" cy="41.8" r="6.6" fill="#d8d9f2"/><circle cx="304.5" cy="41.8" r="6" fill="#a8b0f4"/><circle cx="316.8" cy="41.8" r="6.6" fill="#d8d9f2"/><circle cx="351.2" cy="74.9" r="6.6" fill="#d8d9f2"/><circle cx="345.9" cy="65.7" r="6" fill="#a8b0f4"/><circle cx="339.9" cy="55.1" r="6.6" fill="#d8d9f2"/><circle cx="351.4" cy="100.6" r="6.6" fill="#d8d9f2"/><circle cx="346.3" cy="109.7" r="6" fill="#a8b0f4"/><circle cx="340.4" cy="120.2" r="6.6" fill="#d8d9f2"/><circle cx="294.5" cy="133.5" r="6.6" fill="#d8d9f2"/><circle cx="305.2" cy="133.5" r="6" fill="#a8b0f4"/><circle cx="317.5" cy="133.5" r="6.6" fill="#d8d9f2"/><circle cx="272.2" cy="120.7" r="6.6" fill="#d8d9f2"/><circle cx="267.0" cy="111.6" r="6" fill="#a8b0f4"/><circle cx="261.0" cy="101.1" r="6.6" fill="#d8d9f2"/><circle cx="271.8" cy="54.7" r="6.6" fill="#d8d9f2"/><circle cx="266.7" cy="63.9" r="6" fill="#a8b0f4"/><circle cx="260.8" cy="74.5" r="6.6" fill="#d8d9f2"/><circle cx="271.2" cy="28.3" r="6.6" fill="#d8d9f2"/><circle cx="338.6" cy="27.6" r="6.6" fill="#d8d9f2"/><circle cx="374.0" cy="87.8" r="6.6" fill="#d8d9f2"/><circle cx="339.3" cy="147.7" r="6.6" fill="#d8d9f2"/><circle cx="272.5" cy="147.4" r="6.6" fill="#d8d9f2"/><circle cx="238.0" cy="89.7" r="6.6" fill="#d8d9f2"/><circle cx="282.5" cy="47.8" r="4.5" fill="#a8b0f4"/><circle cx="271.9" cy="41.8" r="4.5" fill="#a8b0f4"/><circle cx="282.4" cy="35.8" r="4.5" fill="#a8b0f4"/><circle cx="328.8" cy="47.9" r="4.5" fill="#a8b0f4"/><circle cx="328.5" cy="35.9" r="4.5" fill="#a8b0f4"/><circle cx="339.3" cy="41.5" r="4.5" fill="#a8b0f4"/><circle cx="351.5" cy="87.8" r="4.5" fill="#a8b0f4"/><circle cx="362.0" cy="81.7" r="4.5" fill="#a8b0f4"/><circle cx="362.0" cy="93.8" r="4.5" fill="#a8b0f4"/><circle cx="329.5" cy="127.5" r="4.5" fill="#a8b0f4"/><circle cx="340.0" cy="133.8" r="4.5" fill="#a8b0f4"/><circle cx="329.2" cy="139.4" r="4.5" fill="#a8b0f4"/><circle cx="283.0" cy="127.4" r="4.5" fill="#a8b0f4"/><circle cx="283.2" cy="139.5" r="4.5" fill="#a8b0f4"/><circle cx="272.5" cy="133.7" r="4.5" fill="#a8b0f4"/><circle cx="260.4" cy="87.8" r="4.5" fill="#a8b0f4"/><circle cx="250.3" cy="94.1" r="4.5" fill="#a8b0f4"/><circle cx="249.5" cy="82.0" r="4.5" fill="#a8b0f4"/></g>
<path d="M278.9,41.8 L332.3,41.8 M278.9,41.8 L267.5,21.8 M332.3,41.8 L358.5,87.8 M332.3,41.8 L341.7,20.8 M358.5,87.8 L333.0,133.5 M358.5,87.8 L381.5,87.8 M333.0,133.5 L279.5,133.5 M333.0,133.5 L342.4,154.5 M279.5,133.5 L253.4,87.8 M279.5,133.5 L269.2,154.1 M253.4,87.8 L278.9,41.8 M253.4,87.8 L230.6,90.7 " fill="none" stroke="#6c6c82" stroke-width="1.2" opacity="0.9" filter="url(#blur03)"/>
<g filter="url(#blur03)"><circle cx="293.9" cy="41.8" r="5.8" fill="#b4b6ee"/><polygon points="298.4,41.8 296.1,45.7 291.6,45.7 289.4,41.8 291.6,37.9 296.1,37.9" fill="none" stroke="#6c6c82" stroke-width="1.2"/><circle cx="316.8" cy="41.8" r="5.8" fill="#b4b6ee"/><polygon points="321.3,41.8 319.1,45.7 314.6,45.7 312.3,41.8 314.6,37.9 319.1,37.9" fill="none" stroke="#6c6c82" stroke-width="1.2"/><circle cx="351.2" cy="74.9" r="5.8" fill="#b4b6ee"/><polygon points="348.9,71.0 353.4,71.0 355.7,74.9 353.4,78.8 348.9,78.8 346.7,74.9" fill="none" stroke="#6c6c82" stroke-width="1.2"/><circle cx="339.9" cy="55.1" r="5.8" fill="#b4b6ee"/><polygon points="337.7,51.2 342.2,51.3 344.4,55.2 342.1,59.1 337.6,59.0 335.4,55.1" fill="none" stroke="#6c6c82" stroke-width="1.2"/><circle cx="351.4" cy="100.6" r="5.8" fill="#b4b6ee"/><polygon points="349.2,104.5 346.9,100.7 349.1,96.7 353.6,96.7 355.9,100.5 353.7,104.5" fill="none" stroke="#6c6c82" stroke-width="1.2"/><circle cx="340.4" cy="120.2" r="5.8" fill="#b4b6ee"/><polygon points="338.2,124.2 335.9,120.3 338.1,116.4 342.6,116.3 344.9,120.2 342.7,124.1" fill="none" stroke="#6c6c82" stroke-width="1.2"/><circle cx="294.5" cy="133.5" r="5.8" fill="#b4b6ee"/><polygon points="299.0,133.5 296.7,137.4 292.2,137.4 290.0,133.5 292.2,129.6 296.7,129.6" fill="none" stroke="#6c6c82" stroke-width="1.2"/><circle cx="317.5" cy="133.5" r="5.8" fill="#b4b6ee"/><polygon points="322.0,133.5 319.7,137.4 315.2,137.4 313.0,133.5 315.2,129.6 319.7,129.6" fill="none" stroke="#6c6c82" stroke-width="1.2"/><circle cx="272.2" cy="120.7" r="5.8" fill="#b4b6ee"/><polygon points="270.0,116.8 274.5,116.8 276.7,120.7 274.4,124.6 269.9,124.6 267.7,120.7" fill="none" stroke="#6c6c82" stroke-width="1.2"/><circle cx="261.0" cy="101.1" r="5.8" fill="#b4b6ee"/><polygon points="258.7,97.1 263.2,97.2 265.5,101.1 263.2,105.0 258.7,104.9 256.5,101.0" fill="none" stroke="#6c6c82" stroke-width="1.2"/><circle cx="271.8" cy="54.7" r="5.8" fill="#b4b6ee"/><polygon points="269.6,58.6 267.3,54.8 269.4,50.8 273.9,50.7 276.3,54.6 274.1,58.5" fill="none" stroke="#6c6c82" stroke-width="1.2"/><circle cx="260.8" cy="74.5" r="5.8" fill="#b4b6ee"/><polygon points="258.6,78.4 256.3,74.5 258.5,70.6 263.0,70.5 265.3,74.4 263.1,78.3" fill="none" stroke="#6c6c82" stroke-width="1.2"/><circle cx="271.2" cy="28.3" r="5.8" fill="#b4b6ee"/><polygon points="269.0,24.4 273.5,24.4 275.7,28.4 273.5,32.2 269.0,32.2 266.7,28.3" fill="none" stroke="#6c6c82" stroke-width="1.2"/><circle cx="278.9" cy="41.8" r="5.8" fill="#f6f6fa"/><polygon points="283.4,41.8 281.1,45.7 276.6,45.7 274.4,41.8 276.6,37.9 281.1,37.9" fill="none" stroke="#6c6c82" stroke-width="1.2"/><circle cx="338.6" cy="27.6" r="5.8" fill="#b4b6ee"/><polygon points="340.4,23.5 343.1,27.2 341.2,31.3 336.8,31.8 334.1,28.1 336.0,24.0" fill="none" stroke="#6c6c82" stroke-width="1.2"/><circle cx="332.3" cy="41.8" r="5.8" fill="#f2a0a0"/><polygon points="336.8,41.8 334.6,45.7 330.1,45.7 327.8,41.8 330.1,37.9 334.6,37.9" fill="none" stroke="#6c6c82" stroke-width="1.2"/><circle cx="374.0" cy="87.8" r="5.8" fill="#b4b6ee"/><polygon points="378.5,87.8 376.2,91.7 371.8,91.7 369.5,87.8 371.8,83.9 376.2,83.9" fill="none" stroke="#6c6c82" stroke-width="1.2"/><circle cx="358.5" cy="87.8" r="5.8" fill="#f6f6fa"/><polygon points="363.0,87.8 360.8,91.7 356.2,91.7 354.0,87.8 356.2,83.9 360.8,83.9" fill="none" stroke="#6c6c82" stroke-width="1.2"/><circle cx="339.3" cy="147.7" r="5.8" fill="#b4b6ee"/><polygon points="341.1,151.8 336.7,151.3 334.8,147.2 337.5,143.5 341.9,144.0 343.8,148.1" fill="none" stroke="#6c6c82" stroke-width="1.2"/><circle cx="333.0" cy="133.5" r="5.8" fill="#f2a0a0"/><polygon points="337.5,133.5 335.2,137.4 330.8,137.4 328.5,133.5 330.8,129.6 335.2,129.6" fill="none" stroke="#6c6c82" stroke-width="1.2"/><circle cx="272.5" cy="147.4" r="5.8" fill="#b4b6ee"/><polygon points="270.5,151.4 268.1,147.6 270.1,143.6 274.6,143.3 277.0,147.1 275.0,151.1" fill="none" stroke="#6c6c82" stroke-width="1.2"/><circle cx="279.5" cy="133.5" r="5.8" fill="#f6f6fa"/><polygon points="284.0,133.5 281.8,137.4 277.2,137.4 275.0,133.5 277.2,129.6 281.8,129.6" fill="none" stroke="#6c6c82" stroke-width="1.2"/><circle cx="238.0" cy="89.7" r="5.8" fill="#b4b6ee"/><polygon points="233.6,90.3 235.3,86.1 239.8,85.6 242.5,89.2 240.7,93.3 236.3,93.9" fill="none" stroke="#6c6c82" stroke-width="1.2"/><circle cx="253.4" cy="87.8" r="5.8" fill="#f2a0a0"/><polygon points="257.9,87.8 255.7,91.7 251.2,91.7 248.9,87.8 251.2,83.9 255.7,83.9" fill="none" stroke="#6c6c82" stroke-width="1.2"/></g>
<g filter="url(#blur1)"><circle cx="304.5" cy="43.0" r="2.4" fill="#3a48e0"/><circle cx="347.0" cy="65.1" r="2.4" fill="#3a48e0"/><circle cx="347.3" cy="110.3" r="2.4" fill="#3a48e0"/><circle cx="305.2" cy="132.3" r="2.4" fill="#3a48e0"/><circle cx="265.9" cy="112.2" r="2.4" fill="#3a48e0"/><circle cx="267.7" cy="64.5" r="2.4" fill="#3a48e0"/><circle cx="281.1" cy="45.5" r="2.2" fill="#3a48e0"/><circle cx="274.6" cy="41.8" r="2.2" fill="#3a48e0"/><circle cx="281.1" cy="38.1" r="2.2" fill="#3a48e0"/><circle cx="330.1" cy="45.5" r="2.2" fill="#3a48e0"/><circle cx="330.0" cy="38.2" r="2.2" fill="#3a48e0"/><circle cx="336.6" cy="41.6" r="2.2" fill="#3a48e0"/><circle cx="354.2" cy="87.8" r="2.2" fill="#3a48e0"/><circle cx="360.7" cy="84.1" r="2.2" fill="#3a48e0"/><circle cx="360.7" cy="91.5" r="2.2" fill="#3a48e0"/><circle cx="330.8" cy="129.8" r="2.2" fill="#3a48e0"/><circle cx="337.3" cy="133.7" r="2.2" fill="#3a48e0"/><circle cx="330.7" cy="137.1" r="2.2" fill="#3a48e0"/><circle cx="281.7" cy="129.8" r="2.2" fill="#3a48e0"/><circle cx="281.8" cy="137.2" r="2.2" fill="#3a48e0"/><circle cx="275.2" cy="133.6" r="2.2" fill="#3a48e0"/><circle cx="257.7" cy="87.8" r="2.2" fill="#3a48e0"/><circle cx="251.5" cy="91.6" r="2.2" fill="#3a48e0"/><circle cx="251.0" cy="84.2" r="2.2" fill="#3a48e0"/></g>
<text x="283.5" y="91.5" font-size="14.4">COF<tspan dy="4.5" font-size="8.6">TAZ</tspan></text>
<g fill="#ecbcbc" filter="url(#blur05)"><circle cx="496.6" cy="41.8" r="10.2"/><circle cx="508.8" cy="41.8" r="11.0"/><circle cx="513.1" cy="49.4" r="3.3"/><circle cx="504.4" cy="49.4" r="3.3"/><circle cx="513.1" cy="34.2" r="3.3"/><circle cx="504.4" cy="34.2" r="3.3"/><circle cx="537.7" cy="65.6" r="10.2"/><circle cx="531.7" cy="55.1" r="11.0"/><circle cx="536.1" cy="47.5" r="3.3"/><circle cx="540.5" cy="55.1" r="3.3"/><circle cx="522.9" cy="55.1" r="3.3"/><circle cx="527.2" cy="62.7" r="3.3"/><circle cx="542.9" cy="100.4" r="11.0"/><circle cx="534.1" cy="100.5" r="3.3"/><circle cx="538.4" cy="92.9" r="3.3"/><circle cx="547.4" cy="108.0" r="3.3"/><circle cx="551.7" cy="100.4" r="3.3"/><circle cx="537.7" cy="109.6" r="10.2"/><circle cx="496.7" cy="133.4" r="10.2"/><circle cx="508.9" cy="133.4" r="11.0"/><circle cx="513.2" cy="141.0" r="3.3"/><circle cx="504.5" cy="141.0" r="3.3"/><circle cx="513.2" cy="125.8" r="3.3"/><circle cx="504.5" cy="125.8" r="3.3"/><circle cx="458.8" cy="111.5" r="10.2"/><circle cx="463.9" cy="54.7" r="11.0"/><circle cx="455.1" cy="54.8" r="3.3"/><circle cx="459.4" cy="47.1" r="3.3"/><circle cx="468.5" cy="62.2" r="3.3"/><circle cx="472.7" cy="54.6" r="3.3"/><circle cx="458.8" cy="63.9" r="10.2"/><circle cx="452.8" cy="74.5" r="11.0"/><circle cx="444.0" cy="74.5" r="3.3"/><circle cx="448.3" cy="66.9" r="3.3"/><circle cx="457.3" cy="82.0" r="3.3"/><circle cx="461.6" cy="74.4" r="3.3"/><circle cx="462.8" cy="28.7" r="11.0"/><circle cx="466.9" cy="20.9" r="3.3"/><circle cx="471.6" cy="28.3" r="3.3"/><circle cx="454.1" cy="29.2" r="3.3"/><circle cx="458.8" cy="36.5" r="3.3"/><circle cx="457.7" cy="20.7" r="6.4"/><circle cx="471.2" cy="41.8" r="11.6"/><circle cx="529.5" cy="27.3" r="11.0"/><circle cx="538.2" cy="25.8" r="3.3"/><circle cx="535.1" cy="34.0" r="3.3"/><circle cx="523.9" cy="20.5" r="3.3"/><circle cx="520.8" cy="28.7" r="3.3"/><circle cx="524.1" cy="41.8" r="11.6"/><circle cx="565.7" cy="87.6" r="11.0"/><circle cx="570.1" cy="95.2" r="3.3"/><circle cx="561.3" cy="95.2" r="3.3"/><circle cx="570.1" cy="80.0" r="3.3"/><circle cx="561.3" cy="80.0" r="3.3"/><circle cx="575.2" cy="87.6" r="6.4"/><circle cx="550.2" cy="87.6" r="11.6"/><circle cx="529.6" cy="147.9" r="11.0"/><circle cx="524.0" cy="154.7" r="3.3"/><circle cx="520.9" cy="146.5" r="3.3"/><circle cx="538.3" cy="149.4" r="3.3"/><circle cx="535.2" cy="141.2" r="3.3"/><circle cx="532.9" cy="156.8" r="6.4"/><circle cx="524.2" cy="133.4" r="11.6"/><circle cx="462.9" cy="146.5" r="11.0"/><circle cx="454.2" cy="146.0" r="3.3"/><circle cx="458.9" cy="138.7" r="3.3"/><circle cx="467.0" cy="154.3" r="3.3"/><circle cx="471.7" cy="146.9" r="3.3"/><circle cx="471.3" cy="133.4" r="11.6"/><circle cx="430.0" cy="90.3" r="11.0"/><circle cx="424.5" cy="83.4" r="3.3"/><circle cx="433.1" cy="82.0" r="3.3"/><circle cx="426.9" cy="98.5" r="3.3"/><circle cx="435.5" cy="97.1" r="3.3"/><circle cx="420.6" cy="91.8" r="6.4"/><circle cx="445.3" cy="87.8" r="11.6"/></g>
<g fill="#e48c8c" filter="url(#blur07)"><circle cx="486.0" cy="41.8" r="11.0"/><circle cx="490.4" cy="49.4" r="3.3"/><circle cx="481.6" cy="49.4" r="3.3"/><circle cx="490.4" cy="34.2" r="3.3"/><circle cx="481.6" cy="34.2" r="3.3"/><circle cx="542.9" cy="74.8" r="11.0"/><circle cx="547.4" cy="67.2" r="3.3"/><circle cx="551.7" cy="74.8" r="3.3"/><circle cx="534.1" cy="74.8" r="3.3"/><circle cx="538.4" cy="82.4" r="3.3"/><circle cx="531.7" cy="120.1" r="11.0"/><circle cx="522.9" cy="120.2" r="3.3"/><circle cx="527.3" cy="112.5" r="3.3"/><circle cx="536.2" cy="127.7" r="3.3"/><circle cx="540.5" cy="120.1" r="3.3"/><circle cx="486.1" cy="133.4" r="11.0"/><circle cx="490.5" cy="141.0" r="3.3"/><circle cx="481.7" cy="141.0" r="3.3"/><circle cx="490.5" cy="125.8" r="3.3"/><circle cx="481.7" cy="125.8" r="3.3"/><circle cx="464.0" cy="120.6" r="11.0"/><circle cx="468.5" cy="113.0" r="3.3"/><circle cx="472.8" cy="120.6" r="3.3"/><circle cx="455.2" cy="120.6" r="3.3"/><circle cx="459.5" cy="128.2" r="3.3"/><circle cx="452.8" cy="101.0" r="11.0"/><circle cx="457.3" cy="93.4" r="3.3"/><circle cx="461.6" cy="101.0" r="3.3"/><circle cx="444.0" cy="101.0" r="3.3"/><circle cx="448.4" cy="108.6" r="3.3"/><circle cx="532.8" cy="18.4" r="6.4"/><circle cx="457.8" cy="154.5" r="6.4"/></g>
<g fill="#f5f4f8" filter="url(#blur07)"><circle cx="486.0" cy="41.8" r="9.7"/><circle cx="490.3" cy="49.3" r="2.2"/><circle cx="481.7" cy="49.3" r="2.2"/><circle cx="490.3" cy="34.3" r="2.2"/><circle cx="481.7" cy="34.3" r="2.2"/><circle cx="496.6" cy="41.8" r="8.9"/><circle cx="508.8" cy="41.8" r="9.7"/><circle cx="513.0" cy="49.3" r="2.2"/><circle cx="504.5" cy="49.3" r="2.2"/><circle cx="513.0" cy="34.3" r="2.2"/><circle cx="504.5" cy="34.3" r="2.2"/><circle cx="542.9" cy="74.8" r="9.7"/><circle cx="547.3" cy="67.4" r="2.2"/><circle cx="551.5" cy="74.8" r="2.2"/><circle cx="534.3" cy="74.8" r="2.2"/><circle cx="538.5" cy="82.2" r="2.2"/><circle cx="537.7" cy="65.6" r="8.9"/><circle cx="531.7" cy="55.1" r="9.7"/><circle cx="536.0" cy="47.7" r="2.2"/><circle cx="540.3" cy="55.1" r="2.2"/><circle cx="523.1" cy="55.1" r="2.2"/><circle cx="527.3" cy="62.5" r="2.2"/><circle cx="542.9" cy="100.4" r="9.7"/><circle cx="534.3" cy="100.5" r="2.2"/><circle cx="538.5" cy="93.0" r="2.2"/><circle cx="547.3" cy="107.8" r="2.2"/><circle cx="551.5" cy="100.4" r="2.2"/><circle cx="537.7" cy="109.6" r="8.9"/><circle cx="531.7" cy="120.1" r="9.7"/><circle cx="523.1" cy="120.2" r="2.2"/><circle cx="527.4" cy="112.7" r="2.2"/><circle cx="536.1" cy="127.5" r="2.2"/><circle cx="540.3" cy="120.1" r="2.2"/><circle cx="486.1" cy="133.4" r="9.7"/><circle cx="490.4" cy="140.9" r="2.2"/><circle cx="481.8" cy="140.9" r="2.2"/><circle cx="490.4" cy="125.9" r="2.2"/><circle cx="481.8" cy="125.9" r="2.2"/><circle cx="496.7" cy="133.4" r="8.9"/><circle cx="508.9" cy="133.4" r="9.7"/><circle cx="513.1" cy="140.9" r="2.2"/><circle cx="504.6" cy="140.9" r="2.2"/><circle cx="513.1" cy="125.9" r="2.2"/><circle cx="504.6" cy="125.9" r="2.2"/><circle cx="464.0" cy="120.6" r="9.7"/><circle cx="468.4" cy="113.2" r="2.2"/><circle cx="472.6" cy="120.6" r="2.2"/><circle cx="455.4" cy="120.6" r="2.2"/><circle cx="459.6" cy="128.0" r="2.2"/><circle cx="458.8" cy="111.5" r="8.9"/><circle cx="452.8" cy="101.0" r="9.7"/><circle cx="457.2" cy="93.6" r="2.2"/><circle cx="461.4" cy="101.0" r="2.2"/><circle cx="444.2" cy="101.0" r="2.2"/><circle cx="448.5" cy="108.4" r="2.2"/><circle cx="463.9" cy="54.7" r="9.7"/><circle cx="455.3" cy="54.7" r="2.2"/><circle cx="459.5" cy="47.3" r="2.2"/><circle cx="468.3" cy="62.1" r="2.2"/><circle cx="472.5" cy="54.6" r="2.2"/><circle cx="458.8" cy="63.9" r="8.9"/><circle cx="452.8" cy="74.5" r="9.7"/><circle cx="444.2" cy="74.5" r="2.2"/><circle cx="448.4" cy="67.1" r="2.2"/><circle cx="457.2" cy="81.8" r="2.2"/><circle cx="461.4" cy="74.4" r="2.2"/><circle cx="462.8" cy="28.7" r="9.7"/><circle cx="466.8" cy="21.1" r="2.2"/><circle cx="471.4" cy="28.3" r="2.2"/><circle cx="454.3" cy="29.2" r="2.2"/><circle cx="458.9" cy="36.4" r="2.2"/><circle cx="457.7" cy="20.7" r="5.1"/><circle cx="471.2" cy="41.8" r="10.3"/><circle cx="529.5" cy="27.3" r="9.7"/><circle cx="538.0" cy="25.9" r="2.2"/><circle cx="535.0" cy="33.9" r="2.2"/><circle cx="524.0" cy="20.7" r="2.2"/><circle cx="521.0" cy="28.7" r="2.2"/><circle cx="532.8" cy="18.4" r="5.1"/><circle cx="524.1" cy="41.8" r="10.3"/><circle cx="565.7" cy="87.6" r="9.7"/><circle cx="570.0" cy="95.1" r="2.2"/><circle cx="561.4" cy="95.1" r="2.2"/><circle cx="570.0" cy="80.1" r="2.2"/><circle cx="561.4" cy="80.1" r="2.2"/><circle cx="575.2" cy="87.6" r="5.1"/><circle cx="550.2" cy="87.6" r="10.3"/><circle cx="529.6" cy="147.9" r="9.7"/><circle cx="524.1" cy="154.5" r="2.2"/><circle cx="521.1" cy="146.5" r="2.2"/><circle cx="538.1" cy="149.3" r="2.2"/><circle cx="535.1" cy="141.3" r="2.2"/><circle cx="532.9" cy="156.8" r="5.1"/><circle cx="524.2" cy="133.4" r="10.3"/><circle cx="462.9" cy="146.5" r="9.7"/><circle cx="454.4" cy="146.0" r="2.2"/><circle cx="459.0" cy="138.8" r="2.2"/><circle cx="466.9" cy="154.1" r="2.2"/><circle cx="471.5" cy="146.9" r="2.2"/><circle cx="457.8" cy="154.5" r="5.1"/><circle cx="471.3" cy="133.4" r="10.3"/><circle cx="430.0" cy="90.3" r="9.7"/><circle cx="424.6" cy="83.6" r="2.2"/><circle cx="433.0" cy="82.2" r="2.2"/><circle cx="427.0" cy="98.3" r="2.2"/><circle cx="435.4" cy="97.0" r="2.2"/><circle cx="420.6" cy="91.8" r="5.1"/><circle cx="445.3" cy="87.8" r="10.3"/></g>
<g fill="#e8e8f6" filter="url(#blur1)"><circle cx="486.0" cy="41.8" r="8.4"/><circle cx="496.6" cy="41.8" r="7.6"/><circle cx="508.8" cy="41.8" r="8.4"/><circle cx="542.9" cy="74.8" r="8.4"/><circle cx="537.7" cy="65.6" r="7.6"/><circle cx="531.7" cy="55.1" r="8.4"/><circle cx="542.9" cy="100.4" r="8.4"/><circle cx="537.7" cy="109.6" r="7.6"/><circle cx="531.7" cy="120.1" r="8.4"/><circle cx="486.1" cy="133.4" r="8.4"/><circle cx="496.7" cy="133.4" r="7.6"/><circle cx="508.9" cy="133.4" r="8.4"/><circle cx="464.0" cy="120.6" r="8.4"/><circle cx="458.8" cy="111.5" r="7.6"/><circle cx="452.8" cy="101.0" r="8.4"/><circle cx="463.9" cy="54.7" r="8.4"/><circle cx="458.8" cy="63.9" r="7.6"/><circle cx="452.8" cy="74.5" r="8.4"/><circle cx="462.8" cy="28.7" r="8.4"/><circle cx="457.7" cy="20.7" r="3.8"/><circle cx="471.2" cy="41.8" r="9.0"/><circle cx="529.5" cy="27.3" r="8.4"/><circle cx="532.8" cy="18.4" r="3.8"/><circle cx="524.1" cy="41.8" r="9.0"/><circle cx="565.7" cy="87.6" r="8.4"/><circle cx="575.2" cy="87.6" r="3.8"/><circle cx="550.2" cy="87.6" r="9.0"/><circle cx="529.6" cy="147.9" r="8.4"/><circle cx="532.9" cy="156.8" r="3.8"/><circle cx="524.2" cy="133.4" r="9.0"/><circle cx="462.9" cy="146.5" r="8.4"/><circle cx="457.8" cy="154.5" r="3.8"/><circle cx="471.3" cy="133.4" r="9.0"/><circle cx="430.0" cy="90.3" r="8.4"/><circle cx="420.6" cy="91.8" r="3.8"/><circle cx="445.3" cy="87.8" r="9.0"/></g>
<g filter="url(#blur15)"><circle cx="486.0" cy="41.8" r="6.8" fill="#d0d2f4"/><circle cx="496.6" cy="41.8" r="6" fill="#a0a8f2"/><circle cx="508.8" cy="41.8" r="6.8" fill="#d0d2f4"/><circle cx="542.9" cy="74.8" r="6.8" fill="#d0d2f4"/><circle cx="537.7" cy="65.6" r="6" fill="#a0a8f2"/><circle cx="531.7" cy="55.1" r="6.8" fill="#d0d2f4"/><circle cx="542.9" cy="100.4" r="6.8" fill="#d0d2f4"/><circle cx="537.7" cy="109.6" r="6" fill="#a0a8f2"/><circle cx="531.7" cy="120.1" r="6.8" fill="#d0d2f4"/><circle cx="486.1" cy="133.4" r="6.8" fill="#d0d2f4"/><circle cx="496.7" cy="133.4" r="6" fill="#a0a8f2"/><circle cx="508.9" cy="133.4" r="6.8" fill="#d0d2f4"/><circle cx="464.0" cy="120.6" r="6.8" fill="#d0d2f4"/><circle cx="458.8" cy="111.5" r="6" fill="#a0a8f2"/><circle cx="452.8" cy="101.0" r="6.8" fill="#d0d2f4"/><circle cx="463.9" cy="54.7" r="6.8" fill="#d0d2f4"/><circle cx="458.8" cy="63.9" r="6" fill="#a0a8f2"/><circle cx="452.8" cy="74.5" r="6.8" fill="#d0d2f4"/><circle cx="462.8" cy="28.7" r="6.8" fill="#d0d2f4"/><circle cx="471.2" cy="41.8" r="6.8" fill="#d0d2f4"/><circle cx="529.5" cy="27.3" r="6.8" fill="#d0d2f4"/><circle cx="565.7" cy="87.6" r="6.8" fill="#d0d2f4"/><circle cx="550.2" cy="87.6" r="6.8" fill="#d0d2f4"/><circle cx="529.6" cy="147.9" r="6.8" fill="#d0d2f4"/><circle cx="462.9" cy="146.5" r="6.8" fill="#d0d2f4"/><circle cx="471.3" cy="133.4" r="6.8" fill="#d0d2f4"/><circle cx="430.0" cy="90.3" r="6.8" fill="#d0d2f4"/><circle cx="520.6" cy="47.9" r="4.5" fill="#a0a8f2"/><circle cx="520.1" cy="36.1" r="4.5" fill="#a0a8f2"/><circle cx="531.1" cy="41.2" r="4.5" fill="#a0a8f2"/><circle cx="520.7" cy="127.4" r="4.5" fill="#a0a8f2"/><circle cx="531.2" cy="134.0" r="4.5" fill="#a0a8f2"/><circle cx="520.2" cy="139.1" r="4.5" fill="#a0a8f2"/><circle cx="452.3" cy="87.8" r="4.5" fill="#a0a8f2"/><circle cx="442.3" cy="94.1" r="4.5" fill="#a0a8f2"/><circle cx="441.3" cy="82.1" r="4.5" fill="#a0a8f2"/></g>
<path d="M471.2,41.8 L524.1,41.8 M471.2,41.8 L458.8,22.4 M524.1,41.8 L550.2,87.6 M524.1,41.8 L532.1,20.2 M550.2,87.6 L524.2,133.4 M550.2,87.6 L573.2,87.6 M524.2,133.4 L471.3,133.4 M524.2,133.4 L532.2,155.0 M471.3,133.4 L445.3,87.8 M471.3,133.4 L458.9,152.8 M445.3,87.8 L471.2,41.8 M445.3,87.8 L422.6,91.5 " fill="none" stroke="#707290" stroke-width="1.1" opacity="0.9" filter="url(#blur03)"/>
<g filter="url(#blur03)"><circle cx="486.0" cy="41.8" r="5.8" fill="#acb0ee"/><polygon points="490.5,41.8 488.3,45.7 483.8,45.7 481.5,41.8 483.8,37.9 488.3,37.9" fill="none" stroke="#707290" stroke-width="1.1"/><circle cx="508.8" cy="41.8" r="5.8" fill="#acb0ee"/><polygon points="513.3,41.8 511.0,45.7 506.5,45.7 504.3,41.8 506.5,37.9 511.0,37.9" fill="none" stroke="#707290" stroke-width="1.1"/><circle cx="542.9" cy="74.8" r="5.8" fill="#acb0ee"/><polygon points="540.7,70.9 545.2,70.9 547.4,74.8 545.1,78.7 540.6,78.7 538.4,74.8" fill="none" stroke="#707290" stroke-width="1.1"/><circle cx="531.7" cy="55.1" r="5.8" fill="#acb0ee"/><polygon points="529.4,51.2 533.9,51.2 536.2,55.1 533.9,59.0 529.4,59.0 527.2,55.1" fill="none" stroke="#707290" stroke-width="1.1"/><circle cx="542.9" cy="100.4" r="5.8" fill="#acb0ee"/><polygon points="540.7,104.3 538.4,100.5 540.6,96.5 545.1,96.5 547.4,100.4 545.2,104.3" fill="none" stroke="#707290" stroke-width="1.1"/><circle cx="531.7" cy="120.1" r="5.8" fill="#acb0ee"/><polygon points="529.5,124.0 527.2,120.2 529.5,116.2 534.0,116.2 536.2,120.1 534.0,124.0" fill="none" stroke="#707290" stroke-width="1.1"/><circle cx="486.1" cy="133.4" r="5.8" fill="#acb0ee"/><polygon points="490.6,133.4 488.4,137.3 483.9,137.3 481.6,133.4 483.9,129.5 488.4,129.5" fill="none" stroke="#707290" stroke-width="1.1"/><circle cx="508.9" cy="133.4" r="5.8" fill="#acb0ee"/><polygon points="513.4,133.4 511.1,137.3 506.6,137.3 504.4,133.4 506.6,129.5 511.1,129.5" fill="none" stroke="#707290" stroke-width="1.1"/><circle cx="464.0" cy="120.6" r="5.8" fill="#acb0ee"/><polygon points="461.8,116.7 466.3,116.7 468.5,120.7 466.2,124.5 461.7,124.5 459.5,120.6" fill="none" stroke="#707290" stroke-width="1.1"/><circle cx="452.8" cy="101.0" r="5.8" fill="#acb0ee"/><polygon points="450.6,97.1 455.1,97.1 457.3,101.0 455.1,104.9 450.6,104.9 448.3,101.0" fill="none" stroke="#707290" stroke-width="1.1"/><circle cx="463.9" cy="54.7" r="5.8" fill="#acb0ee"/><polygon points="461.7,58.6 459.4,54.7 461.7,50.8 466.2,50.8 468.4,54.6 466.2,58.6" fill="none" stroke="#707290" stroke-width="1.1"/><circle cx="452.8" cy="74.5" r="5.8" fill="#acb0ee"/><polygon points="450.6,78.4 448.3,74.5 450.5,70.6 455.0,70.5 457.3,74.4 455.1,78.3" fill="none" stroke="#707290" stroke-width="1.1"/><circle cx="462.8" cy="28.7" r="5.8" fill="#acb0ee"/><polygon points="460.4,25.0 464.9,24.7 467.3,28.5 465.3,32.5 460.8,32.7 458.4,28.9" fill="none" stroke="#707290" stroke-width="1.1"/><circle cx="471.2" cy="41.8" r="5.8" fill="#f2a8a8"/><polygon points="475.7,41.8 473.4,45.7 468.9,45.7 466.7,41.8 468.9,37.9 473.4,37.9" fill="none" stroke="#707290" stroke-width="1.1"/><circle cx="529.5" cy="27.3" r="5.8" fill="#acb0ee"/><polygon points="531.1,23.0 533.9,26.5 532.4,30.7 527.9,31.5 525.1,28.0 526.6,23.8" fill="none" stroke="#707290" stroke-width="1.1"/><circle cx="524.1" cy="41.8" r="5.8" fill="#f6f6fa"/><polygon points="528.6,41.8 526.4,45.7 521.9,45.7 519.6,41.8 521.9,37.9 526.4,37.9" fill="none" stroke="#707290" stroke-width="1.1"/><circle cx="565.7" cy="87.6" r="5.8" fill="#acb0ee"/><polygon points="570.2,87.6 568.0,91.5 563.5,91.5 561.2,87.6 563.5,83.7 568.0,83.7" fill="none" stroke="#707290" stroke-width="1.1"/><circle cx="550.2" cy="87.6" r="5.8" fill="#f2a8a8"/><polygon points="554.7,87.6 552.5,91.5 548.0,91.5 545.7,87.6 548.0,83.7 552.5,83.7" fill="none" stroke="#707290" stroke-width="1.1"/><circle cx="529.6" cy="147.9" r="5.8" fill="#acb0ee"/><polygon points="531.2,152.2 526.7,151.4 525.2,147.2 528.0,143.7 532.5,144.5 534.0,148.7" fill="none" stroke="#707290" stroke-width="1.1"/><circle cx="524.2" cy="133.4" r="5.8" fill="#f6f6fa"/><polygon points="528.7,133.4 526.5,137.3 522.0,137.3 519.7,133.4 522.0,129.5 526.5,129.5" fill="none" stroke="#707290" stroke-width="1.1"/><circle cx="462.9" cy="146.5" r="5.8" fill="#acb0ee"/><polygon points="460.5,150.2 458.5,146.3 460.9,142.5 465.4,142.7 467.4,146.7 465.0,150.5" fill="none" stroke="#707290" stroke-width="1.1"/><circle cx="471.3" cy="133.4" r="5.8" fill="#f2a8a8"/><polygon points="475.8,133.4 473.6,137.3 469.1,137.3 466.8,133.4 469.1,129.5 473.6,129.5" fill="none" stroke="#707290" stroke-width="1.1"/><circle cx="430.0" cy="90.3" r="5.8" fill="#acb0ee"/><polygon points="425.6,91.0 427.2,86.8 431.6,86.1 434.4,89.6 432.8,93.8 428.4,94.5" fill="none" stroke="#707290" stroke-width="1.1"/><circle cx="445.3" cy="87.8" r="5.8" fill="#f6f6fa"/><polygon points="449.8,87.8 447.6,91.7 443.1,91.7 440.8,87.8 443.1,83.9 447.6,83.9" fill="none" stroke="#707290" stroke-width="1.1"/></g>
<g filter="url(#blur1)"><circle cx="496.6" cy="43.0" r="2.4" fill="#3a48e8"/><circle cx="536.6" cy="66.2" r="2.4" fill="#3a48e8"/><circle cx="536.7" cy="109.0" r="2.4" fill="#3a48e8"/><circle cx="496.7" cy="134.6" r="2.4" fill="#3a48e8"/><circle cx="459.9" cy="110.9" r="2.4" fill="#3a48e8"/><circle cx="457.7" cy="63.3" r="2.4" fill="#3a48e8"/><circle cx="521.9" cy="45.5" r="2.2" fill="#3a48e8"/><circle cx="521.6" cy="38.3" r="2.2" fill="#3a48e8"/><circle cx="528.4" cy="41.5" r="2.2" fill="#3a48e8"/><circle cx="522.0" cy="129.7" r="2.2" fill="#3a48e8"/><circle cx="528.5" cy="133.7" r="2.2" fill="#3a48e8"/><circle cx="521.7" cy="136.9" r="2.2" fill="#3a48e8"/><circle cx="449.6" cy="87.8" r="2.2" fill="#3a48e8"/><circle cx="443.4" cy="91.7" r="2.2" fill="#3a48e8"/><circle cx="442.8" cy="84.3" r="2.2" fill="#3a48e8"/></g>
<text x="476.4" y="92.1" font-size="14.4">COF<tspan dy="4.5" font-size="8.6">Ph</tspan></text>
<rect x="618.2" y="33.2" width="10" height="120.8" fill="url(#cbar)"/>
<line x1="629.3" y1="38.8" x2="633.8" y2="38.8" stroke="#000" stroke-width="1.3"/>
<text x="641.0" y="42.4" font-size="9.3" text-anchor="start" fill="#000" >31.38</text>
<line x1="629.3" y1="66.2" x2="633.8" y2="66.2" stroke="#000" stroke-width="1.3"/>
<text x="641.0" y="69.8" font-size="9.3" text-anchor="start" fill="#000" >15.69</text>
<line x1="629.3" y1="94.2" x2="633.8" y2="94.2" stroke="#000" stroke-width="1.3"/>
<text x="641.0" y="97.8" font-size="9.3" text-anchor="start" fill="#000" >0.00</text>
<line x1="629.3" y1="121.6" x2="633.8" y2="121.6" stroke="#000" stroke-width="1.3"/>
<text x="641.0" y="125.19999999999999" font-size="9.3" text-anchor="start" fill="#000" >-15.69</text>
<line x1="629.3" y1="149" x2="633.8" y2="149" stroke="#000" stroke-width="1.3"/>
<text x="641.0" y="152.6" font-size="9.3" text-anchor="start" fill="#000" >-31.38</text>
<text x="610.8" y="25.2" font-size="11.3" word-spacing="1.6">kcal mol<tspan dy="-4.2" font-size="6.6">-1</tspan></text>
<text x="-0.3" y="182.3" font-size="19.5" text-anchor="start" fill="#000" >b</text>
<line x1="32.6" y1="185.0" x2="32.6" y2="309.7" stroke="#000" stroke-width="1.5"/>
<line x1="29.400000000000002" y1="185.7" x2="32.6" y2="185.7" stroke="#000" stroke-width="1.3"/>
<text x="27.3" y="188.89999999999998" font-size="9" text-anchor="end" fill="#000" >-2</text>
<line x1="30.8" y1="198.03" x2="32.6" y2="198.03" stroke="#000" stroke-width="1"/>
<line x1="29.400000000000002" y1="210.35999999999999" x2="32.6" y2="210.35999999999999" stroke="#000" stroke-width="1.3"/>
<text x="27.3" y="213.55999999999997" font-size="9" text-anchor="end" fill="#000" >-3</text>
<line x1="30.8" y1="222.69" x2="32.6" y2="222.69" stroke="#000" stroke-width="1"/>
<line x1="29.400000000000002" y1="235.01999999999998" x2="32.6" y2="235.01999999999998" stroke="#000" stroke-width="1.3"/>
<text x="27.3" y="238.21999999999997" font-size="9" text-anchor="end" fill="#000" >-4</text>
<line x1="30.8" y1="247.35" x2="32.6" y2="247.35" stroke="#000" stroke-width="1"/>
<line x1="29.400000000000002" y1="259.68" x2="32.6" y2="259.68" stroke="#000" stroke-width="1.3"/>
<text x="27.3" y="262.88" font-size="9" text-anchor="end" fill="#000" >-5</text>
<line x1="30.8" y1="272.01" x2="32.6" y2="272.01" stroke="#000" stroke-width="1"/>
<line x1="29.400000000000002" y1="284.34" x2="32.6" y2="284.34" stroke="#000" stroke-width="1.3"/>
<text x="27.3" y="287.53999999999996" font-size="9" text-anchor="end" fill="#000" >-6</text>
<line x1="30.8" y1="296.66999999999996" x2="32.6" y2="296.66999999999996" stroke="#000" stroke-width="1"/>
<line x1="29.400000000000002" y1="309.0" x2="32.6" y2="309.0" stroke="#000" stroke-width="1.3"/>
<text x="27.3" y="312.2" font-size="9" text-anchor="end" fill="#000" >-7</text>
<text transform="translate(14.9,238.8) rotate(-90)" font-size="10.6" text-anchor="middle">Energy Level (eV)</text>
<text x="38.6" y="186.8" font-size="9.2" text-anchor="start" fill="#000" >LUMO</text>
<text x="39" y="313.8" font-size="9.2" text-anchor="start" fill="#000" >HOMO</text>
<rect x="47.2" y="201.0" width="29.099999999999994" height="76.7" fill="#73b3de"/>
<rect x="105.1" y="201.7" width="29.200000000000017" height="90.0" fill="#dd8e80"/>
<rect x="163.1" y="198.3" width="28.900000000000006" height="85.3" fill="#e6c46e"/>
<text x="63.2" y="198.9" font-size="9.3" text-anchor="middle" fill="#000" >-2.62</text>
<text x="63.2" y="284.6" font-size="9.3" text-anchor="middle" fill="#000" >-5.73</text>
<text x="121.8" y="200.6" font-size="9.3" text-anchor="middle" fill="#000" >-2.65</text>
<text x="121.2" y="298.3" font-size="9.3" text-anchor="middle" fill="#000" >-6.30</text>
<text x="179.7" y="196.5" font-size="9.3" text-anchor="middle" fill="#000" >-2.51</text>
<text x="178.9" y="290.2" font-size="9.3" text-anchor="middle" fill="#000" >-5.97</text>
<text x="45.4" y="241" font-size="9.8">COF<tspan dy="3" font-size="5.4">TSA</tspan></text>
<text x="103.8" y="254.4" font-size="9.8">COF<tspan dy="3" font-size="5.4">TAZ</tspan></text>
<text x="164.4" y="244.5" font-size="9.8">COF<tspan dy="3" font-size="5.4">Ph</tspan></text>
<text x="-0.7" y="335.9" font-size="19.5" text-anchor="start" fill="#000" >d</text>
<rect x="33.8" y="329.6" width="157.7" height="126.5" fill="none" stroke="#000" stroke-width="1.5"/>
<line x1="30.799999999999997" y1="329.64" x2="33.8" y2="329.64" stroke="#000" stroke-width="1.3"/>
<text x="30.5" y="332.84" font-size="9" text-anchor="end" fill="#000" >1.2</text>
<line x1="30.799999999999997" y1="365.76" x2="33.8" y2="365.76" stroke="#000" stroke-width="1.3"/>
<text x="30.5" y="368.96" font-size="9" text-anchor="end" fill="#000" >0.8</text>
<line x1="30.799999999999997" y1="401.88" x2="33.8" y2="401.88" stroke="#000" stroke-width="1.3"/>
<text x="30.5" y="405.08" font-size="9" text-anchor="end" fill="#000" >0.4</text>
<line x1="30.799999999999997" y1="438.0" x2="33.8" y2="438.0" stroke="#000" stroke-width="1.3"/>
<text x="30.5" y="441.2" font-size="9" text-anchor="end" fill="#000" >0.0</text>
<line x1="31.999999999999996" y1="347.7" x2="33.8" y2="347.7" stroke="#000" stroke-width="1"/>
<line x1="31.999999999999996" y1="383.82" x2="33.8" y2="383.82" stroke="#000" stroke-width="1"/>
<line x1="31.999999999999996" y1="419.94" x2="33.8" y2="419.94" stroke="#000" stroke-width="1"/>
<line x1="31.999999999999996" y1="456.06" x2="33.8" y2="456.06" stroke="#000" stroke-width="1"/>
<text transform="translate(14.9,386.2) rotate(-90)" font-size="10.6" text-anchor="middle">Free energy (eV)</text>
<line x1="65.3" y1="438" x2="96.3" y2="404.6" stroke="#4a9edb" stroke-width="1.4" stroke-dasharray="5,3.2"/>
<line x1="129.1" y1="404.6" x2="159.4" y2="438" stroke="#4a9edb" stroke-width="1.4" stroke-dasharray="5,3.2"/>
<line x1="96.3" y1="404.6" x2="129.1" y2="404.6" stroke="#4a9edb" stroke-width="1.5"/>
<line x1="65.3" y1="438" x2="96.3" y2="379.3" stroke="#d9574f" stroke-width="1.4" stroke-dasharray="5,3.2"/>
<line x1="129.1" y1="379.3" x2="159.4" y2="438" stroke="#d9574f" stroke-width="1.4" stroke-dasharray="5,3.2"/>
<line x1="96.3" y1="379.3" x2="129.1" y2="379.3" stroke="#d9574f" stroke-width="1.5"/>
<line x1="65.3" y1="438" x2="96.3" y2="344.1" stroke="#e6a93a" stroke-width="1.4" stroke-dasharray="5,3.2"/>
<line x1="129.1" y1="344.1" x2="159.4" y2="438" stroke="#e6a93a" stroke-width="1.4" stroke-dasharray="5,3.2"/>
<line x1="96.3" y1="344.1" x2="129.1" y2="344.1" stroke="#e6a93a" stroke-width="1.5"/>
<line x1="33.5" y1="438" x2="65.3" y2="438" stroke="#e6a93a" stroke-width="1.7"/>
<line x1="159.4" y1="438" x2="191.5" y2="438" stroke="#e6a93a" stroke-width="1.7"/>
<text x="43.2" y="344.4" font-size="9.3" text-anchor="start" fill="#000" >U = 0.70 V</text>
<text x="115.2" y="341.5" font-size="9.3" text-anchor="middle" fill="#000" >*OOH</text>
<line x1="144.8" y1="337.8" x2="159.7" y2="337.8" stroke="#4a9edb" stroke-width="1.6"/>
<text x="162.2" y="339.2" font-size="8.3">COF<tspan dy="2.6" font-size="4.8">TSA</tspan></text>
<line x1="144.8" y1="349.1" x2="159.7" y2="349.1" stroke="#d9574f" stroke-width="1.6"/>
<text x="162.2" y="350.5" font-size="8.3">COF<tspan dy="2.6" font-size="4.8">TAZ</tspan></text>
<line x1="144.8" y1="360.40000000000003" x2="159.7" y2="360.40000000000003" stroke="#e6a93a" stroke-width="1.6"/>
<text x="162.2" y="361.8" font-size="8.3">COF<tspan dy="2.6" font-size="4.8">Ph</tspan></text>
<text x="58.6" y="369.5" font-size="9.3" text-anchor="start" fill="#e6a93a" >1.04 eV</text>
<text x="49.4" y="402.3" font-size="9.3" text-anchor="start" fill="#d9574f" >0.65 eV</text>
<text x="81.3" y="429.2" font-size="9.3" text-anchor="start" fill="#4a9edb" >0.37 eV</text>
<text x="40.8" y="431.9" font-size="9.3">*+O<tspan dy="2" font-size="6">2</tspan></text>
<text x="160.5" y="431.9" font-size="9.3">*+H<tspan dy="2" font-size="6">2</tspan><tspan dy="-2">O</tspan><tspan dy="2" font-size="6">2</tspan></text>
<text x="116.7" y="470.2" font-size="10.7" text-anchor="middle" fill="#000" >Reaction Coordinate</text>
<text x="208.1" y="335.4" font-size="19.5" text-anchor="start" fill="#000" >e</text>
<rect x="243" y="329.6" width="157.5" height="126.5" fill="none" stroke="#000" stroke-width="1.5"/>
<line x1="240" y1="329.6" x2="243" y2="329.6" stroke="#000" stroke-width="1.3"/>
<text x="240" y="332.8" font-size="9" text-anchor="end" fill="#000" >1.0</text>
<line x1="241.2" y1="338.6" x2="243" y2="338.6" stroke="#000" stroke-width="1"/>
<line x1="240" y1="347.6" x2="243" y2="347.6" stroke="#000" stroke-width="1.3"/>
<text x="240" y="350.8" font-size="9" text-anchor="end" fill="#000" >0.8</text>
<line x1="241.2" y1="356.6" x2="243" y2="356.6" stroke="#000" stroke-width="1"/>
<line x1="240" y1="365.6" x2="243" y2="365.6" stroke="#000" stroke-width="1.3"/>
<text x="240" y="368.8" font-size="9" text-anchor="end" fill="#000" >0.6</text>
<line x1="241.2" y1="374.6" x2="243" y2="374.6" stroke="#000" stroke-width="1"/>
<line x1="240" y1="383.6" x2="243" y2="383.6" stroke="#000" stroke-width="1.3"/>
<text x="240" y="386.8" font-size="9" text-anchor="end" fill="#000" >0.4</text>
<line x1="241.2" y1="392.6" x2="243" y2="392.6" stroke="#000" stroke-width="1"/>
<line x1="240" y1="401.6" x2="243" y2="401.6" stroke="#000" stroke-width="1.3"/>
<text x="240" y="404.8" font-size="9" text-anchor="end" fill="#000" >0.2</text>
<line x1="241.2" y1="410.6" x2="243" y2="410.6" stroke="#000" stroke-width="1"/>
<line x1="240" y1="419.6" x2="243" y2="419.6" stroke="#000" stroke-width="1.3"/>
<text x="240" y="422.8" font-size="9" text-anchor="end" fill="#000" >0.0</text>
<line x1="241.2" y1="428.6" x2="243" y2="428.6" stroke="#000" stroke-width="1"/>
<line x1="240" y1="437.6" x2="243" y2="437.6" stroke="#000" stroke-width="1.3"/>
<text x="240" y="440.8" font-size="9" text-anchor="end" fill="#000" >-0.2</text>
<line x1="241.2" y1="446.6" x2="243" y2="446.6" stroke="#000" stroke-width="1"/>
<line x1="240" y1="455.6" x2="243" y2="455.6" stroke="#000" stroke-width="1.3"/>
<text x="240" y="458.8" font-size="9" text-anchor="end" fill="#000" >-0.4</text>
<line x1="263.3" y1="456.1" x2="263.3" y2="459.1" stroke="#000" stroke-width="1.3"/>
<text x="263.3" y="466.6" font-size="9" text-anchor="middle" fill="#000" >3.5</text>
<line x1="297.90000000000003" y1="456.1" x2="297.90000000000003" y2="459.1" stroke="#000" stroke-width="1.3"/>
<text x="297.90000000000003" y="466.6" font-size="9" text-anchor="middle" fill="#000" >4.0</text>
<line x1="332.5" y1="456.1" x2="332.5" y2="459.1" stroke="#000" stroke-width="1.3"/>
<text x="332.5" y="466.6" font-size="9" text-anchor="middle" fill="#000" >4.5</text>
<line x1="367.1" y1="456.1" x2="367.1" y2="459.1" stroke="#000" stroke-width="1.3"/>
<text x="367.1" y="466.6" font-size="9" text-anchor="middle" fill="#000" >5.0</text>
<line x1="401.70000000000005" y1="456.1" x2="401.70000000000005" y2="459.1" stroke="#000" stroke-width="1.3"/>
<text x="401.70000000000005" y="466.6" font-size="9" text-anchor="middle" fill="#000" >5.5</text>
<line x1="246.0" y1="456.1" x2="246.0" y2="457.90000000000003" stroke="#000" stroke-width="1"/>
<line x1="280.6" y1="456.1" x2="280.6" y2="457.90000000000003" stroke="#000" stroke-width="1"/>
<line x1="315.20000000000005" y1="456.1" x2="315.20000000000005" y2="457.90000000000003" stroke="#000" stroke-width="1"/>
<line x1="349.8" y1="456.1" x2="349.8" y2="457.90000000000003" stroke="#000" stroke-width="1"/>
<line x1="384.40000000000003" y1="456.1" x2="384.40000000000003" y2="457.90000000000003" stroke="#000" stroke-width="1"/>
<line x1="244" y1="356.4" x2="400.5" y2="356.4" stroke="#333" stroke-width="1.6" stroke-dasharray="6.2,3.2"/>
<polyline points="243,456.1 312.3,356.5 382,456.1" fill="none" stroke="#707070" stroke-width="1.3"/>
<text x="252.3" y="368.8" font-size="9.3">O<tspan dy="2" font-size="6">2</tspan><tspan dy="-2">/H</tspan><tspan dy="2" font-size="6">2</tspan><tspan dy="-2">O</tspan><tspan dy="2" font-size="6">2</tspan></text>
<text transform="translate(219.6,390.2) rotate(-90)" font-size="10.4" text-anchor="middle"><tspan font-style="italic">U</tspan><tspan dy="2.5" font-size="6.2">L</tspan><tspan dy="-2.5"> (V)</tspan></text>
<text x="325.2" y="478.5" font-size="10.7" text-anchor="middle">Δ<tspan font-style="italic">G</tspan><tspan dy="3.5" font-size="5.8">*OOH</tspan><tspan dy="-3.5"> (eV)</tspan></text>
<circle cx="339.2" cy="389.8" r="2.6" fill="#3c8fdc"/><circle cx="338.5" cy="389.1" r="0.9" fill="#fff" opacity="0.7"/>
<circle cx="358" cy="415.4" r="2.6" fill="#d75a4e"/><circle cx="357.3" cy="414.7" r="0.9" fill="#fff" opacity="0.7"/>
<circle cx="384.3" cy="450.6" r="2.6" fill="#e5a83a"/><circle cx="383.6" cy="449.90000000000003" r="0.9" fill="#fff" opacity="0.7"/>
<circle cx="358.1" cy="368.3" r="2.6" fill="#3c8fdc"/><circle cx="357.9" cy="367.40000000000003" r="0.8" fill="#fff" opacity="0.75"/>
<text x="363.9" y="371.1" font-size="8.3">COF<tspan dy="2.6" font-size="4.8">TSA</tspan></text>
<circle cx="358.1" cy="379.75" r="2.6" fill="#d75a4e"/><circle cx="357.9" cy="378.85" r="0.8" fill="#fff" opacity="0.75"/>
<text x="363.9" y="382.55" font-size="8.3">COF<tspan dy="2.6" font-size="4.8">TAZ</tspan></text>
<circle cx="358.1" cy="391.2" r="2.6" fill="#e5a83a"/><circle cx="357.9" cy="390.3" r="0.8" fill="#fff" opacity="0.75"/>
<text x="363.9" y="394.0" font-size="8.3">COF<tspan dy="2.6" font-size="4.8">Ph</tspan></text>
<text x="411.1" y="181.5" font-size="19.5" text-anchor="start" fill="#000" >f</text>
<path d="M425.00,223.30 C427.00,223.13 433.83,222.77 437.00,222.30 C440.17,221.83 441.83,221.37 444.00,220.50 C446.17,219.63 448.25,218.18 450.00,217.10 C451.75,216.02 453.25,214.77 454.50,214.00 C455.75,213.23 456.50,212.62 457.50,212.50 C458.50,212.38 459.42,212.70 460.50,213.30 C461.58,213.90 462.75,215.27 464.00,216.10 C465.25,216.93 465.83,217.73 468.00,218.30 C470.17,218.87 470.83,219.10 477.00,219.50 C483.17,219.90 497.00,220.57 505.00,220.70 C513.00,220.83 521.08,219.96 525.00,220.30 C528.92,220.64 527.50,222.00 528.50,222.72 C529.50,223.44 530.08,224.69 531.00,224.59 C531.92,224.49 532.83,221.91 534.00,222.12 C535.17,222.32 536.00,225.28 538.00,225.80 C540.00,226.32 542.83,225.05 546.00,225.24 C549.17,225.43 554.17,226.17 557.00,226.92 C559.83,227.67 561.17,229.39 563.00,229.72 C564.83,230.05 564.67,228.60 568.00,228.88 C571.33,229.16 580.50,230.98 583.00,231.40" fill="none" stroke="#f40000" stroke-width="1.6"/>
<path d="M425.00,228.50 C427.00,228.34 433.83,227.98 437.00,227.53 C440.17,227.07 441.83,226.62 444.00,225.77 C446.17,224.93 448.25,223.52 450.00,222.46 C451.75,221.41 453.25,220.19 454.50,219.44 C455.75,218.69 456.50,218.09 457.50,217.98 C458.50,217.87 459.42,218.17 460.50,218.76 C461.58,219.34 462.75,220.67 464.00,221.49 C465.25,222.30 465.83,223.06 468.00,223.63 C470.17,224.20 470.83,224.48 477.00,224.88 C483.17,225.29 497.00,225.92 505.00,226.05 C513.00,226.18 521.08,225.33 525.00,225.66 C528.92,226.00 527.50,227.35 528.50,228.05 C529.50,228.76 530.08,230.00 531.00,229.90 C531.92,229.80 532.83,227.26 534.00,227.45 C535.17,227.65 536.00,230.58 538.00,231.09 C540.00,231.60 542.83,230.33 546.00,230.52 C549.17,230.71 554.17,231.47 557.00,232.24 C559.83,233.00 561.17,234.77 563.00,235.11 C564.83,235.44 564.67,233.96 568.00,234.25 C571.33,234.53 580.50,236.40 583.00,236.83" fill="none" stroke="#f41600" stroke-width="1.6"/>
<path d="M425.00,233.70 C427.00,233.54 433.83,233.19 437.00,232.75 C440.17,232.31 441.83,231.87 444.00,231.05 C446.17,230.22 448.25,228.85 450.00,227.82 C451.75,226.79 453.25,225.61 454.50,224.88 C455.75,224.16 456.50,223.57 457.50,223.46 C458.50,223.35 459.42,223.65 460.50,224.22 C461.58,224.79 462.75,226.08 464.00,226.87 C465.25,227.66 465.83,228.39 468.00,228.96 C470.17,229.52 470.83,229.86 477.00,230.27 C483.17,230.68 497.00,231.28 505.00,231.41 C513.00,231.53 521.08,230.70 525.00,231.03 C528.92,231.36 527.50,232.69 528.50,233.38 C529.50,234.08 530.08,235.30 531.00,235.21 C531.92,235.11 532.83,232.60 534.00,232.79 C535.17,232.99 536.00,235.88 538.00,236.39 C540.00,236.89 542.83,235.60 546.00,235.80 C549.17,235.99 554.17,236.78 557.00,237.56 C559.83,238.34 561.17,240.15 563.00,240.49 C564.83,240.83 564.67,239.32 568.00,239.61 C571.33,239.91 580.50,241.81 583.00,242.25" fill="none" stroke="#f42c00" stroke-width="1.6"/>
<path d="M425.00,238.90 C427.00,238.75 433.83,238.41 437.00,237.98 C440.17,237.55 441.83,237.12 444.00,236.32 C446.17,235.52 448.25,234.18 450.00,233.18 C451.75,232.18 453.25,231.03 454.50,230.32 C455.75,229.62 456.50,229.05 457.50,228.94 C458.50,228.83 459.42,229.12 460.50,229.68 C461.58,230.23 462.75,231.49 464.00,232.26 C465.25,233.03 465.83,233.72 468.00,234.29 C470.17,234.85 470.83,235.24 477.00,235.65 C483.17,236.06 497.00,236.63 505.00,236.76 C513.00,236.88 521.08,236.06 525.00,236.39 C528.92,236.72 527.50,238.03 528.50,238.72 C529.50,239.40 530.08,240.61 531.00,240.51 C531.92,240.42 532.83,237.94 534.00,238.13 C535.17,238.33 536.00,241.19 538.00,241.68 C540.00,242.17 542.83,240.88 546.00,241.08 C549.17,241.28 554.17,242.08 557.00,242.88 C559.83,243.68 561.17,245.53 563.00,245.88 C564.83,246.23 564.67,244.68 568.00,244.98 C571.33,245.28 580.50,247.23 583.00,247.68" fill="none" stroke="#f44300" stroke-width="1.6"/>
<path d="M425.00,244.60 C427.00,244.45 433.83,244.12 437.00,243.70 C440.17,243.29 441.83,242.87 444.00,242.09 C446.17,241.31 448.25,240.01 450.00,239.04 C451.75,238.07 453.25,236.95 454.50,236.26 C455.75,235.58 456.50,235.02 457.50,234.92 C458.50,234.82 459.42,235.10 460.50,235.64 C461.58,236.17 462.75,237.40 464.00,238.15 C465.25,238.89 465.83,239.55 468.00,240.12 C470.17,240.68 470.83,241.12 477.00,241.53 C483.17,241.95 497.00,242.49 505.00,242.61 C513.00,242.73 521.08,241.93 525.00,242.25 C528.92,242.57 527.50,243.87 528.50,244.55 C529.50,245.23 530.08,246.42 531.00,246.32 C531.92,246.23 532.83,243.78 534.00,243.97 C535.17,244.17 536.00,246.99 538.00,247.47 C540.00,247.95 542.83,246.65 546.00,246.86 C549.17,247.06 554.17,247.88 557.00,248.70 C559.83,249.51 561.17,251.41 563.00,251.76 C564.83,252.12 564.67,250.54 568.00,250.84 C571.33,251.15 580.50,253.14 583.00,253.60" fill="none" stroke="#f45900" stroke-width="1.6"/>
<path d="M425.00,249.80 C427.00,249.65 433.83,249.34 437.00,248.93 C440.17,248.52 441.83,248.12 444.00,247.36 C446.17,246.61 448.25,245.35 450.00,244.40 C451.75,243.46 453.25,242.37 454.50,241.71 C455.75,241.04 456.50,240.50 457.50,240.40 C458.50,240.30 459.42,240.57 460.50,241.10 C461.58,241.62 462.75,242.81 464.00,243.53 C465.25,244.26 465.83,244.88 468.00,245.45 C470.17,246.01 470.83,246.50 477.00,246.92 C483.17,247.34 497.00,247.85 505.00,247.96 C513.00,248.08 521.08,247.30 525.00,247.61 C528.92,247.93 527.50,249.21 528.50,249.88 C529.50,250.55 530.08,251.72 531.00,251.63 C531.92,251.54 532.83,249.12 534.00,249.31 C535.17,249.50 536.00,252.29 538.00,252.76 C540.00,253.23 542.83,251.93 546.00,252.14 C549.17,252.35 554.17,253.18 557.00,254.02 C559.83,254.85 561.17,256.78 563.00,257.15 C564.83,257.52 564.67,255.90 568.00,256.21 C571.33,256.52 580.50,258.56 583.00,259.03" fill="none" stroke="#f47000" stroke-width="1.6"/>
<path d="M425.00,255.20 C427.00,255.06 433.83,254.75 437.00,254.36 C440.17,253.96 441.83,253.57 444.00,252.84 C446.17,252.10 448.25,250.88 450.00,249.96 C451.75,249.05 453.25,247.99 454.50,247.35 C455.75,246.70 456.50,246.18 457.50,246.08 C458.50,245.98 459.42,246.25 460.50,246.76 C461.58,247.26 462.75,248.42 464.00,249.12 C465.25,249.82 465.83,250.41 468.00,250.98 C470.17,251.54 470.83,252.08 477.00,252.50 C483.17,252.93 497.00,253.40 505.00,253.52 C513.00,253.63 521.08,252.86 525.00,253.18 C528.92,253.49 527.50,254.75 528.50,255.41 C529.50,256.07 530.08,257.23 531.00,257.14 C531.92,257.05 532.83,254.67 534.00,254.85 C535.17,255.04 536.00,257.80 538.00,258.26 C540.00,258.72 542.83,257.40 546.00,257.62 C549.17,257.83 554.17,258.68 557.00,259.54 C559.83,260.39 561.17,262.36 563.00,262.74 C564.83,263.11 564.67,261.46 568.00,261.78 C571.33,262.10 580.50,264.18 583.00,264.66" fill="none" stroke="#f48600" stroke-width="1.6"/>
<path d="M425.00,260.60 C427.00,260.46 433.83,260.16 437.00,259.78 C440.17,259.40 441.83,259.02 444.00,258.31 C446.17,257.60 448.25,256.41 450.00,255.53 C451.75,254.64 453.25,253.62 454.50,252.99 C455.75,252.36 456.50,251.86 457.50,251.76 C458.50,251.66 459.42,251.92 460.50,252.41 C461.58,252.91 462.75,254.02 464.00,254.71 C465.25,255.39 465.83,255.94 468.00,256.51 C470.17,257.07 470.83,257.66 477.00,258.09 C483.17,258.51 497.00,258.96 505.00,259.07 C513.00,259.18 521.08,258.43 525.00,258.74 C528.92,259.05 527.50,260.29 528.50,260.94 C529.50,261.59 530.08,262.74 531.00,262.65 C531.92,262.55 532.83,260.21 534.00,260.39 C535.17,260.58 536.00,263.30 538.00,263.75 C540.00,264.20 542.83,262.88 546.00,263.09 C549.17,263.31 554.17,264.18 557.00,265.05 C559.83,265.93 561.17,267.94 563.00,268.32 C564.83,268.70 564.67,267.01 568.00,267.34 C571.33,267.67 580.50,269.79 583.00,270.28" fill="none" stroke="#f49d00" stroke-width="1.6"/>
<path d="M425.00,266.10 C427.00,265.97 433.83,265.68 437.00,265.31 C440.17,264.94 441.83,264.57 444.00,263.88 C446.17,263.19 448.25,262.04 450.00,261.19 C451.75,260.33 453.25,259.34 454.50,258.73 C455.75,258.12 456.50,257.63 457.50,257.54 C458.50,257.45 459.42,257.70 460.50,258.17 C461.58,258.65 462.75,259.73 464.00,260.39 C465.25,261.05 465.83,261.57 468.00,262.14 C470.17,262.70 470.83,263.34 477.00,263.77 C483.17,264.20 497.00,264.62 505.00,264.72 C513.00,264.83 521.08,264.09 525.00,264.40 C528.92,264.71 527.50,265.93 528.50,266.58 C529.50,267.22 530.08,268.35 531.00,268.25 C531.92,268.16 532.83,265.85 534.00,266.03 C535.17,266.21 536.00,268.90 538.00,269.34 C540.00,269.78 542.83,268.45 546.00,268.67 C549.17,268.90 554.17,269.79 557.00,270.67 C559.83,271.56 561.17,273.62 563.00,274.01 C564.83,274.40 564.67,272.67 568.00,273.01 C571.33,273.34 580.50,275.51 583.00,276.01" fill="none" stroke="#f4b300" stroke-width="1.6"/>
<path d="M425.00,271.50 C427.00,271.37 433.83,271.09 437.00,270.73 C440.17,270.38 441.83,270.02 444.00,269.35 C446.17,268.69 448.25,267.58 450.00,266.75 C451.75,265.92 453.25,264.96 454.50,264.37 C455.75,263.78 456.50,263.31 457.50,263.22 C458.50,263.13 459.42,263.37 460.50,263.83 C461.58,264.29 462.75,265.34 464.00,265.98 C465.25,266.62 465.83,267.10 468.00,267.67 C470.17,268.23 470.83,268.92 477.00,269.35 C483.17,269.79 497.00,270.17 505.00,270.27 C513.00,270.38 521.08,269.66 525.00,269.97 C528.92,270.27 527.50,271.48 528.50,272.11 C529.50,272.74 530.08,273.85 531.00,273.76 C531.92,273.67 532.83,271.39 534.00,271.57 C535.17,271.75 536.00,274.40 538.00,274.83 C540.00,275.26 542.83,273.93 546.00,274.15 C549.17,274.38 554.17,275.29 557.00,276.19 C559.83,277.10 561.17,279.20 563.00,279.59 C564.83,279.99 564.67,278.23 568.00,278.57 C571.33,278.91 580.50,281.12 583.00,281.63" fill="none" stroke="#f4c900" stroke-width="1.6"/>
<path d="M425.00,277.00 C427.00,276.88 433.83,276.60 437.00,276.26 C440.17,275.91 441.83,275.57 444.00,274.93 C446.17,274.28 448.25,273.21 450.00,272.41 C451.75,271.60 453.25,270.68 454.50,270.11 C455.75,269.54 456.50,269.09 457.50,269.00 C458.50,268.91 459.42,269.15 460.50,269.59 C461.58,270.04 462.75,271.05 464.00,271.67 C465.25,272.28 465.83,272.73 468.00,273.30 C470.17,273.86 470.83,274.60 477.00,275.04 C483.17,275.48 497.00,275.83 505.00,275.93 C513.00,276.02 521.08,275.33 525.00,275.63 C528.92,275.93 527.50,277.12 528.50,277.74 C529.50,278.36 530.08,279.46 531.00,279.37 C531.92,279.28 532.83,277.04 534.00,277.21 C535.17,277.39 536.00,280.01 538.00,280.43 C540.00,280.85 542.83,279.50 546.00,279.73 C549.17,279.96 554.17,280.89 557.00,281.81 C559.83,282.74 561.17,284.87 563.00,285.28 C564.83,285.68 564.67,283.89 568.00,284.24 C571.33,284.59 580.50,286.84 583.00,287.36" fill="none" stroke="#f4e000" stroke-width="1.6"/>
<path d="M425.00,282.80 C427.00,282.68 433.83,282.42 437.00,282.09 C440.17,281.75 441.83,281.42 444.00,280.80 C446.17,280.18 448.25,279.14 450.00,278.37 C451.75,277.59 453.25,276.70 454.50,276.15 C455.75,275.60 456.50,275.16 457.50,275.08 C458.50,275.00 459.42,275.22 460.50,275.65 C461.58,276.08 462.75,277.06 464.00,277.65 C465.25,278.25 465.83,278.66 468.00,279.23 C470.17,279.79 470.83,280.58 477.00,281.02 C483.17,281.46 497.00,281.78 505.00,281.88 C513.00,281.97 521.08,281.29 525.00,281.59 C528.92,281.89 527.50,283.06 528.50,283.67 C529.50,284.29 530.08,285.37 531.00,285.28 C531.92,285.19 532.83,282.98 534.00,283.15 C535.17,283.33 536.00,285.91 538.00,286.32 C540.00,286.73 542.83,285.38 546.00,285.61 C549.17,285.85 554.17,286.79 557.00,287.73 C559.83,288.67 561.17,290.85 563.00,291.27 C564.83,291.68 564.67,289.85 568.00,290.21 C571.33,290.56 580.50,292.86 583.00,293.39" fill="none" stroke="#dcf400" stroke-width="1.6"/>
<path d="M425.00,288.50 C427.00,288.39 433.83,288.13 437.00,287.81 C440.17,287.49 441.83,287.17 444.00,286.57 C446.17,285.97 448.25,284.98 450.00,284.23 C451.75,283.48 453.25,282.62 454.50,282.09 C455.75,281.57 456.50,281.14 457.50,281.06 C458.50,280.98 459.42,281.20 460.50,281.61 C461.58,282.02 462.75,282.97 464.00,283.54 C465.25,284.11 465.83,284.49 468.00,285.06 C470.17,285.62 470.83,286.46 477.00,286.90 C483.17,287.35 497.00,287.64 505.00,287.73 C513.00,287.82 521.08,287.16 525.00,287.46 C528.92,287.75 527.50,288.90 528.50,289.50 C529.50,290.11 530.08,291.17 531.00,291.09 C531.92,291.00 532.83,288.82 534.00,288.99 C535.17,289.16 536.00,291.71 538.00,292.11 C540.00,292.51 542.83,291.15 546.00,291.39 C549.17,291.63 554.17,292.59 557.00,293.55 C559.83,294.51 561.17,296.73 563.00,297.15 C564.83,297.57 564.67,295.71 568.00,296.07 C571.33,296.43 580.50,298.77 583.00,299.31" fill="none" stroke="#b0f400" stroke-width="1.6"/>
<path d="M425.00,293.90 C427.00,293.79 433.83,293.55 437.00,293.24 C440.17,292.93 441.83,292.62 444.00,292.04 C446.17,291.47 448.25,290.51 450.00,289.79 C451.75,289.07 453.25,288.24 454.50,287.73 C455.75,287.23 456.50,286.82 457.50,286.74 C458.50,286.66 459.42,286.87 460.50,287.27 C461.58,287.67 462.75,288.57 464.00,289.13 C465.25,289.68 465.83,290.02 468.00,290.59 C470.17,291.15 470.83,292.04 477.00,292.49 C483.17,292.94 497.00,293.20 505.00,293.28 C513.00,293.37 521.08,292.73 525.00,293.02 C528.92,293.31 527.50,294.44 528.50,295.04 C529.50,295.63 530.08,296.68 531.00,296.59 C531.92,296.51 532.83,294.36 534.00,294.53 C535.17,294.70 536.00,297.21 538.00,297.60 C540.00,297.99 542.83,296.63 546.00,296.87 C549.17,297.11 554.17,298.09 557.00,299.07 C559.83,300.05 561.17,302.31 563.00,302.74 C564.83,303.16 564.67,301.27 568.00,301.64 C571.33,302.00 580.50,304.39 583.00,304.94" fill="none" stroke="#84f400" stroke-width="1.6"/>
<path d="M425.00,299.50 C427.00,299.39 433.83,299.16 437.00,298.86 C440.17,298.57 441.83,298.27 444.00,297.72 C446.17,297.16 448.25,296.24 450.00,295.55 C451.75,294.86 453.25,294.06 454.50,293.58 C455.75,293.09 456.50,292.69 457.50,292.62 C458.50,292.55 459.42,292.75 460.50,293.13 C461.58,293.51 462.75,294.38 464.00,294.91 C465.25,295.44 465.83,295.76 468.00,296.31 C470.17,296.87 470.83,297.82 477.00,298.27 C483.17,298.73 497.00,298.95 505.00,299.04 C513.00,299.12 521.08,298.49 525.00,298.78 C528.92,299.07 527.50,300.18 528.50,300.77 C529.50,301.35 530.08,302.39 531.00,302.30 C531.92,302.22 532.83,300.11 534.00,300.27 C535.17,300.44 536.00,302.92 538.00,303.30 C540.00,303.68 542.83,302.30 546.00,302.55 C549.17,302.80 554.17,303.79 557.00,304.79 C559.83,305.79 561.17,308.09 563.00,308.52 C564.83,308.96 564.67,307.03 568.00,307.40 C571.33,307.78 580.50,310.20 583.00,310.76" fill="none" stroke="#58f400" stroke-width="1.6"/>
<path d="M425.00,305.20 C427.00,305.10 433.83,304.87 437.00,304.59 C440.17,304.30 441.83,304.02 444.00,303.49 C446.17,302.96 448.25,302.07 450.00,301.41 C451.75,300.75 453.25,299.99 454.50,299.52 C455.75,299.05 456.50,298.67 457.50,298.60 C458.50,298.53 459.42,298.72 460.50,299.09 C461.58,299.46 462.75,300.29 464.00,300.80 C465.25,301.31 465.83,301.59 468.00,302.14 C470.17,302.70 470.83,303.70 477.00,304.16 C483.17,304.61 497.00,304.81 505.00,304.89 C513.00,304.97 521.08,304.36 525.00,304.64 C528.92,304.93 527.50,306.02 528.50,306.60 C529.50,307.18 530.08,308.19 531.00,308.11 C531.92,308.03 532.83,305.95 534.00,306.11 C535.17,306.27 536.00,308.72 538.00,309.09 C540.00,309.46 542.83,308.08 546.00,308.33 C549.17,308.58 554.17,309.60 557.00,310.61 C559.83,311.62 561.17,313.97 563.00,314.41 C564.83,314.85 564.67,312.89 568.00,313.27 C571.33,313.65 580.50,316.12 583.00,316.69" fill="none" stroke="#2cf400" stroke-width="1.6"/>
<path d="M425.00,311.50 C427.00,311.40 433.83,311.19 437.00,310.91 C440.17,310.64 441.83,310.37 444.00,309.86 C446.17,309.35 448.25,308.51 450.00,307.87 C451.75,307.24 453.25,306.51 454.50,306.06 C455.75,305.61 456.50,305.25 457.50,305.18 C458.50,305.11 459.42,305.30 460.50,305.65 C461.58,306.00 462.75,306.80 464.00,307.29 C465.25,307.77 465.83,308.02 468.00,308.57 C470.17,309.13 470.83,310.18 477.00,310.64 C483.17,311.10 497.00,311.26 505.00,311.34 C513.00,311.42 521.08,310.83 525.00,311.11 C528.92,311.39 527.50,312.46 528.50,313.03 C529.50,313.60 530.08,314.60 531.00,314.52 C531.92,314.44 532.83,312.39 534.00,312.55 C535.17,312.71 536.00,315.12 538.00,315.48 C540.00,315.84 542.83,314.45 546.00,314.71 C549.17,314.97 554.17,316.00 557.00,317.03 C559.83,318.06 561.17,320.44 563.00,320.89 C564.83,321.35 564.67,319.35 568.00,319.73 C571.33,320.12 580.50,322.63 583.00,323.21" fill="none" stroke="#00f400" stroke-width="1.6"/>
<path d="M425.00,317.20 C427.00,317.11 433.83,316.90 437.00,316.64 C440.17,316.38 441.83,316.12 444.00,315.63 C446.17,315.15 448.25,314.34 450.00,313.73 C451.75,313.13 453.25,312.43 454.50,312.00 C455.75,311.57 456.50,311.23 457.50,311.16 C458.50,311.09 459.42,311.27 460.50,311.61 C461.58,311.94 462.75,312.71 464.00,313.17 C465.25,313.64 465.83,313.85 468.00,314.40 C470.17,314.96 470.83,316.06 477.00,316.52 C483.17,316.99 497.00,317.12 505.00,317.19 C513.00,317.27 521.08,316.69 525.00,316.97 C528.92,317.25 527.50,318.30 528.50,318.86 C529.50,319.42 530.08,320.41 531.00,320.33 C531.92,320.25 532.83,318.23 534.00,318.39 C535.17,318.55 536.00,320.92 538.00,321.27 C540.00,321.62 542.83,320.23 546.00,320.49 C549.17,320.75 554.17,321.80 557.00,322.85 C559.83,323.90 561.17,326.32 563.00,326.78 C564.83,327.24 564.67,325.21 568.00,325.60 C571.33,325.99 580.50,328.55 583.00,329.14" fill="none" stroke="#00f425" stroke-width="1.6"/>
<path d="M425.00,322.80 C427.00,322.71 433.83,322.52 437.00,322.27 C440.17,322.02 441.83,321.77 444.00,321.31 C446.17,320.84 448.25,320.07 450.00,319.49 C451.75,318.92 453.25,318.25 454.50,317.84 C455.75,317.43 456.50,317.10 457.50,317.04 C458.50,316.98 459.42,317.15 460.50,317.47 C461.58,317.79 462.75,318.52 464.00,318.96 C465.25,319.40 465.83,319.58 468.00,320.13 C470.17,320.69 470.83,321.84 477.00,322.31 C483.17,322.78 497.00,322.88 505.00,322.95 C513.00,323.02 521.08,322.46 525.00,322.73 C528.92,323.01 527.50,324.05 528.50,324.60 C529.50,325.15 530.08,326.11 531.00,326.04 C531.92,325.96 532.83,323.98 534.00,324.13 C535.17,324.29 536.00,326.63 538.00,326.97 C540.00,327.31 542.83,325.90 546.00,326.17 C549.17,326.43 554.17,327.50 557.00,328.57 C559.83,329.63 561.17,332.10 563.00,332.57 C564.83,333.03 564.67,330.97 568.00,331.37 C571.33,331.77 580.50,334.37 583.00,334.97" fill="none" stroke="#00f44b" stroke-width="1.6"/>
<path d="M425.00,328.30 C427.00,328.22 433.83,328.03 437.00,327.79 C440.17,327.56 441.83,327.32 444.00,326.88 C446.17,326.44 448.25,325.70 450.00,325.15 C451.75,324.60 453.25,323.97 454.50,323.58 C455.75,323.19 456.50,322.88 457.50,322.82 C458.50,322.76 459.42,322.92 460.50,323.23 C461.58,323.53 462.75,324.22 464.00,324.65 C465.25,325.07 465.83,325.21 468.00,325.76 C470.17,326.32 470.83,327.52 477.00,327.99 C483.17,328.46 497.00,328.53 505.00,328.60 C513.00,328.67 521.08,328.12 525.00,328.40 C528.92,328.67 527.50,329.69 528.50,330.23 C529.50,330.77 530.08,331.72 531.00,331.64 C531.92,331.57 532.83,329.62 534.00,329.77 C535.17,329.92 536.00,332.23 538.00,332.56 C540.00,332.89 542.83,331.47 546.00,331.75 C549.17,332.02 554.17,333.10 557.00,334.19 C559.83,335.27 561.17,337.78 563.00,338.25 C564.83,338.73 564.67,336.63 568.00,337.03 C571.33,337.44 580.50,340.08 583.00,340.69" fill="none" stroke="#00f470" stroke-width="1.6"/>
<path d="M425.00,333.60 C427.00,333.52 433.83,333.34 437.00,333.12 C440.17,332.89 441.83,332.67 444.00,332.25 C446.17,331.83 448.25,331.14 450.00,330.61 C451.75,330.09 453.25,329.49 454.50,329.12 C455.75,328.75 456.50,328.46 457.50,328.40 C458.50,328.34 459.42,328.50 460.50,328.79 C461.58,329.07 462.75,329.73 464.00,330.13 C465.25,330.53 465.83,330.64 468.00,331.19 C470.17,331.75 470.83,333.00 477.00,333.47 C483.17,333.95 497.00,333.99 505.00,334.05 C513.00,334.12 521.08,333.59 525.00,333.86 C528.92,334.13 527.50,335.13 528.50,335.66 C529.50,336.19 530.08,337.13 531.00,337.05 C531.92,336.98 532.83,335.06 534.00,335.21 C535.17,335.36 536.00,337.63 538.00,337.95 C540.00,338.27 542.83,336.85 546.00,337.13 C549.17,337.40 554.17,338.50 557.00,339.61 C559.83,340.71 561.17,343.26 563.00,343.74 C564.83,344.22 564.67,342.09 568.00,342.50 C571.33,342.91 580.50,345.60 583.00,346.22" fill="none" stroke="#00f496" stroke-width="1.6"/>
<path d="M425.00,339.00 C427.00,338.92 433.83,338.76 437.00,338.54 C440.17,338.33 441.83,338.12 444.00,337.72 C446.17,337.33 448.25,336.67 450.00,336.18 C451.75,335.68 453.25,335.11 454.50,334.76 C455.75,334.41 456.50,334.13 457.50,334.08 C458.50,334.03 459.42,334.17 460.50,334.44 C461.58,334.72 462.75,335.34 464.00,335.72 C465.25,336.10 465.83,336.17 468.00,336.72 C470.17,337.28 470.83,338.58 477.00,339.06 C483.17,339.54 497.00,339.54 505.00,339.60 C513.00,339.67 521.08,339.16 525.00,339.42 C528.92,339.69 527.50,340.67 528.50,341.19 C529.50,341.71 530.08,342.63 531.00,342.56 C531.92,342.49 532.83,340.60 534.00,340.75 C535.17,340.90 536.00,343.14 538.00,343.44 C540.00,343.75 542.83,342.32 546.00,342.60 C549.17,342.88 554.17,344.00 557.00,345.12 C559.83,346.24 561.17,348.83 563.00,349.32 C564.83,349.81 564.67,347.64 568.00,348.06 C571.33,348.48 580.50,351.21 583.00,351.84" fill="none" stroke="#00f4bc" stroke-width="1.6"/>
<path d="M425.00,344.00 C427.00,343.93 433.83,343.77 437.00,343.57 C440.17,343.37 441.83,343.17 444.00,342.80 C446.17,342.42 448.25,341.80 450.00,341.34 C451.75,340.87 453.25,340.33 454.50,340.00 C455.75,339.68 456.50,339.41 457.50,339.36 C458.50,339.31 459.42,339.45 460.50,339.70 C461.58,339.96 462.75,340.55 464.00,340.91 C465.25,341.26 465.83,341.30 468.00,341.85 C470.17,342.41 470.83,343.76 477.00,344.24 C483.17,344.73 497.00,344.70 505.00,344.76 C513.00,344.81 521.08,344.32 525.00,344.59 C528.92,344.85 527.50,345.81 528.50,346.32 C529.50,346.84 530.08,347.74 531.00,347.67 C531.92,347.60 532.83,345.74 534.00,345.89 C535.17,346.03 536.00,348.24 538.00,348.54 C540.00,348.84 542.83,347.40 546.00,347.68 C549.17,347.97 554.17,349.11 557.00,350.24 C559.83,351.38 561.17,354.01 563.00,354.51 C564.83,355.01 564.67,352.80 568.00,353.23 C571.33,353.66 580.50,356.43 583.00,357.07" fill="none" stroke="#00f4e1" stroke-width="1.6"/>
<path d="M425.00,348.60 C427.00,348.53 433.83,348.38 437.00,348.20 C440.17,348.01 441.83,347.82 444.00,347.47 C446.17,347.12 448.25,346.53 450.00,346.10 C451.75,345.66 453.25,345.16 454.50,344.85 C455.75,344.54 456.50,344.29 457.50,344.24 C458.50,344.19 459.42,344.32 460.50,344.56 C461.58,344.81 462.75,345.36 464.00,345.69 C465.25,346.03 465.83,346.03 468.00,346.58 C470.17,347.14 470.83,348.54 477.00,349.03 C483.17,349.51 497.00,349.46 505.00,349.51 C513.00,349.56 521.08,349.09 525.00,349.35 C528.92,349.61 527.50,350.55 528.50,351.06 C529.50,351.56 530.08,352.45 531.00,352.38 C531.92,352.30 532.83,350.49 534.00,350.63 C535.17,350.77 536.00,352.94 538.00,353.23 C540.00,353.52 542.83,352.07 546.00,352.36 C549.17,352.65 554.17,353.81 557.00,354.96 C559.83,356.12 561.17,358.79 563.00,359.30 C564.83,359.80 564.67,357.56 568.00,358.00 C571.33,358.43 580.50,361.25 583.00,361.90" fill="none" stroke="#00e7f4" stroke-width="1.6"/>
<path d="M425.00,352.80 C427.00,352.74 433.83,352.60 437.00,352.42 C440.17,352.25 441.83,352.07 444.00,351.74 C446.17,351.41 448.25,350.87 450.00,350.46 C451.75,350.05 453.25,349.58 454.50,349.29 C455.75,349.00 456.50,348.76 457.50,348.72 C458.50,348.68 459.42,348.80 460.50,349.02 C461.58,349.25 462.75,349.77 464.00,350.08 C465.25,350.39 465.83,350.36 468.00,350.91 C470.17,351.47 470.83,352.92 477.00,353.41 C483.17,353.90 497.00,353.81 505.00,353.86 C513.00,353.91 521.08,353.46 525.00,353.71 C528.92,353.97 527.50,354.89 528.50,355.39 C529.50,355.88 530.08,356.75 531.00,356.68 C531.92,356.61 532.83,354.83 534.00,354.97 C535.17,355.11 536.00,357.24 538.00,357.52 C540.00,357.80 542.83,356.35 546.00,356.64 C549.17,356.94 554.17,358.11 557.00,359.28 C559.83,360.46 561.17,363.17 563.00,363.68 C564.83,364.20 564.67,361.92 568.00,362.36 C571.33,362.80 580.50,365.66 583.00,366.32" fill="none" stroke="#00cdf4" stroke-width="1.6"/>
<path d="M425.00,356.30 C427.00,356.24 433.83,356.11 437.00,355.95 C440.17,355.78 441.83,355.62 444.00,355.31 C446.17,355.01 448.25,354.50 450.00,354.12 C451.75,353.74 453.25,353.30 454.50,353.03 C455.75,352.76 456.50,352.54 457.50,352.50 C458.50,352.46 459.42,352.57 460.50,352.78 C461.58,352.99 462.75,353.47 464.00,353.77 C465.25,354.06 465.83,353.99 468.00,354.54 C470.17,355.10 470.83,356.60 477.00,357.09 C483.17,357.59 497.00,357.47 505.00,357.51 C513.00,357.56 521.08,357.12 525.00,357.37 C528.92,357.62 527.50,358.53 528.50,359.02 C529.50,359.51 530.08,360.36 531.00,360.29 C531.92,360.22 532.83,358.47 534.00,358.61 C535.17,358.75 536.00,360.85 538.00,361.11 C540.00,361.38 542.83,359.92 546.00,360.22 C549.17,360.52 554.17,361.71 557.00,362.90 C559.83,364.09 561.17,366.85 563.00,367.37 C564.83,367.89 564.67,365.58 568.00,366.03 C571.33,366.47 580.50,369.38 583.00,370.05" fill="none" stroke="#00b3f4" stroke-width="1.6"/>
<path d="M425.00,359.30 C427.00,359.25 433.83,359.13 437.00,358.97 C440.17,358.82 441.83,358.67 444.00,358.39 C446.17,358.10 448.25,357.63 450.00,357.28 C451.75,356.93 453.25,356.52 454.50,356.27 C455.75,356.02 456.50,355.82 457.50,355.78 C458.50,355.74 459.42,355.85 460.50,356.04 C461.58,356.24 462.75,356.68 464.00,356.95 C465.25,357.22 465.83,357.12 468.00,357.67 C470.17,358.22 470.83,359.78 477.00,360.28 C483.17,360.78 497.00,360.62 505.00,360.67 C513.00,360.71 521.08,360.29 525.00,360.54 C528.92,360.78 527.50,361.67 528.50,362.15 C529.50,362.63 530.08,363.47 531.00,363.40 C531.92,363.33 532.83,361.61 534.00,361.75 C535.17,361.88 536.00,363.95 538.00,364.21 C540.00,364.47 542.83,363.00 546.00,363.30 C549.17,363.60 554.17,364.81 557.00,366.02 C559.83,367.23 561.17,370.03 563.00,370.55 C564.83,371.08 564.67,368.74 568.00,369.19 C571.33,369.65 580.50,372.59 583.00,373.27" fill="none" stroke="#0099f4" stroke-width="1.6"/>
<path d="M425.00,362.00 C427.00,361.95 433.83,361.84 437.00,361.70 C440.17,361.56 441.83,361.42 444.00,361.16 C446.17,360.90 448.25,360.46 450.00,360.14 C451.75,359.81 453.25,359.44 454.50,359.21 C455.75,358.98 456.50,358.79 457.50,358.76 C458.50,358.73 459.42,358.82 460.50,359.00 C461.58,359.18 462.75,359.59 464.00,359.84 C465.25,360.09 465.83,359.95 468.00,360.50 C470.17,361.05 470.83,362.66 477.00,363.16 C483.17,363.66 497.00,363.48 505.00,363.52 C513.00,363.56 521.08,363.16 525.00,363.40 C528.92,363.64 527.50,364.52 528.50,364.98 C529.50,365.45 530.08,366.27 531.00,366.21 C531.92,366.14 532.83,364.46 534.00,364.59 C535.17,364.72 536.00,366.75 538.00,367.00 C540.00,367.25 542.83,365.77 546.00,366.08 C549.17,366.39 554.17,367.61 557.00,368.84 C559.83,370.07 561.17,372.90 563.00,373.44 C564.83,373.98 564.67,371.60 568.00,372.06 C571.33,372.52 580.50,375.51 583.00,376.20" fill="none" stroke="#007ff4" stroke-width="1.6"/>
<path d="M425.00,369.10 C427.00,369.08 433.83,369.02 437.00,368.95 C440.17,368.88 441.83,368.81 444.00,368.68 C446.17,368.55 448.25,368.33 450.00,368.17 C451.75,368.01 453.25,367.82 454.50,367.71 C455.75,367.59 456.50,367.50 457.50,367.48 C458.50,367.46 459.42,367.51 460.50,367.60 C461.58,367.69 462.75,367.90 464.00,368.02 C465.25,368.15 465.83,368.07 468.00,368.35 C470.17,368.63 470.83,369.43 477.00,369.68 C483.17,369.93 497.00,369.84 505.00,369.86 C513.00,369.88 521.08,369.60 525.00,369.80 C528.92,370.00 527.50,370.67 528.50,371.03 C529.50,371.40 530.08,372.04 531.00,371.98 C531.92,371.93 532.83,370.62 534.00,370.72 C535.17,370.83 536.00,372.33 538.00,372.60 C540.00,372.87 542.83,372.23 546.00,372.32 C549.17,372.41 554.17,372.79 557.00,373.16 C559.83,373.53 561.17,374.40 563.00,374.56 C564.83,374.72 564.67,374.00 568.00,374.14 C571.33,374.28 580.50,375.19 583.00,375.40" fill="none" stroke="#1371f5" stroke-width="1.6"/>
<path d="M425.00,379.60 C427.00,379.60 433.83,379.58 437.00,379.57 C440.17,379.56 441.83,379.54 444.00,379.52 C446.17,379.49 448.25,379.45 450.00,379.41 C451.75,379.38 453.25,379.34 454.50,379.32 C455.75,379.30 456.50,379.28 457.50,379.28 C458.50,379.27 459.42,379.28 460.50,379.30 C461.58,379.32 462.75,379.36 464.00,379.38 C465.25,379.41 465.83,379.38 468.00,379.45 C470.17,379.52 470.83,379.72 477.00,379.78 C483.17,379.84 497.00,379.81 505.00,379.81 C513.00,379.82 521.08,379.74 525.00,379.80 C528.92,379.86 527.50,380.05 528.50,380.15 C529.50,380.26 530.08,380.44 531.00,380.42 C531.92,380.41 532.83,380.03 534.00,380.06 C535.17,380.09 536.00,380.53 538.00,380.60 C540.00,380.67 542.83,380.43 546.00,380.47 C549.17,380.51 554.17,380.69 557.00,380.86 C559.83,381.03 561.17,381.43 563.00,381.51 C564.83,381.59 564.67,381.25 568.00,381.31 C571.33,381.38 580.50,381.80 583.00,381.90" fill="none" stroke="#1357f5" stroke-width="1.6"/>
<path d="M425.00,389.10 C427.00,389.10 433.83,389.10 437.00,389.10 C440.17,389.10 441.83,389.10 444.00,389.10 C446.17,389.10 448.25,389.10 450.00,389.10 C451.75,389.10 453.25,389.10 454.50,389.10 C455.75,389.10 456.50,389.10 457.50,389.10 C458.50,389.10 459.42,389.10 460.50,389.10 C461.58,389.10 462.75,389.10 464.00,389.10 C465.25,389.10 465.83,389.08 468.00,389.10 C470.17,389.12 470.83,389.18 477.00,389.20 C483.17,389.22 497.00,389.20 505.00,389.20 C513.00,389.20 521.08,389.18 525.00,389.20 C528.92,389.22 527.50,389.28 528.50,389.31 C529.50,389.34 530.08,389.40 531.00,389.40 C531.92,389.39 532.83,389.27 534.00,389.28 C535.17,389.29 536.00,389.43 538.00,389.45 C540.00,389.47 542.83,389.40 546.00,389.42 C549.17,389.43 554.17,389.47 557.00,389.52 C559.83,389.57 561.17,389.67 563.00,389.70 C564.83,389.72 564.67,389.63 568.00,389.64 C571.33,389.66 580.50,389.77 583.00,389.80" fill="none" stroke="#1326f5" stroke-width="1.6"/>
<path d="M425.00,396.30 C427.00,396.30 433.83,396.30 437.00,396.30 C440.17,396.30 441.83,396.30 444.00,396.30 C446.17,396.30 448.25,396.30 450.00,396.30 C451.75,396.30 453.25,396.30 454.50,396.30 C455.75,396.30 456.50,396.30 457.50,396.30 C458.50,396.30 459.42,396.30 460.50,396.30 C461.58,396.30 462.75,396.30 464.00,396.30 C465.25,396.30 465.83,396.28 468.00,396.30 C470.17,396.32 470.83,396.38 477.00,396.40 C483.17,396.42 497.00,396.40 505.00,396.40 C513.00,396.40 521.08,396.38 525.00,396.40 C528.92,396.42 527.50,396.48 528.50,396.51 C529.50,396.54 530.08,396.60 531.00,396.60 C531.92,396.59 532.83,396.47 534.00,396.48 C535.17,396.49 536.00,396.63 538.00,396.65 C540.00,396.67 542.83,396.60 546.00,396.62 C549.17,396.63 554.17,396.67 557.00,396.72 C559.83,396.77 561.17,396.87 563.00,396.90 C564.83,396.92 564.67,396.83 568.00,396.84 C571.33,396.86 580.50,396.97 583.00,397.00" fill="none" stroke="#3213f5" stroke-width="1.6"/>
<path d="M425.00,402.60 C427.00,402.60 433.83,402.60 437.00,402.60 C440.17,402.60 441.83,402.60 444.00,402.60 C446.17,402.60 448.25,402.60 450.00,402.60 C451.75,402.60 453.25,402.60 454.50,402.60 C455.75,402.60 456.50,402.60 457.50,402.60 C458.50,402.60 459.42,402.60 460.50,402.60 C461.58,402.60 462.75,402.60 464.00,402.60 C465.25,402.60 465.83,402.58 468.00,402.60 C470.17,402.62 470.83,402.68 477.00,402.70 C483.17,402.72 497.00,402.70 505.00,402.70 C513.00,402.70 521.08,402.68 525.00,402.70 C528.92,402.72 527.50,402.78 528.50,402.81 C529.50,402.84 530.08,402.90 531.00,402.90 C531.92,402.89 532.83,402.77 534.00,402.78 C535.17,402.79 536.00,402.93 538.00,402.95 C540.00,402.97 542.83,402.90 546.00,402.92 C549.17,402.93 554.17,402.97 557.00,403.02 C559.83,403.07 561.17,403.17 563.00,403.20 C564.83,403.22 564.67,403.13 568.00,403.14 C571.33,403.16 580.50,403.27 583.00,403.30" fill="none" stroke="#5013f5" stroke-width="1.6"/>
<path d="M425.00,408.70 C427.00,408.70 433.83,408.70 437.00,408.70 C440.17,408.70 441.83,408.70 444.00,408.70 C446.17,408.70 448.25,408.70 450.00,408.70 C451.75,408.70 453.25,408.70 454.50,408.70 C455.75,408.70 456.50,408.70 457.50,408.70 C458.50,408.70 459.42,408.70 460.50,408.70 C461.58,408.70 462.75,408.70 464.00,408.70 C465.25,408.70 465.83,408.68 468.00,408.70 C470.17,408.72 470.83,408.78 477.00,408.80 C483.17,408.82 497.00,408.80 505.00,408.80 C513.00,408.80 521.08,408.78 525.00,408.80 C528.92,408.82 527.50,408.88 528.50,408.91 C529.50,408.94 530.08,409.00 531.00,409.00 C531.92,408.99 532.83,408.87 534.00,408.88 C535.17,408.89 536.00,409.03 538.00,409.05 C540.00,409.07 542.83,409.00 546.00,409.01 C549.17,409.03 554.17,409.07 557.00,409.12 C559.83,409.17 561.17,409.27 563.00,409.30 C564.83,409.32 564.67,409.23 568.00,409.24 C571.33,409.26 580.50,409.37 583.00,409.40" fill="none" stroke="#6613f5" stroke-width="1.6"/>
<path d="M425.00,414.50 C427.00,414.50 433.83,414.50 437.00,414.50 C440.17,414.50 441.83,414.50 444.00,414.50 C446.17,414.50 448.25,414.50 450.00,414.50 C451.75,414.50 453.25,414.50 454.50,414.50 C455.75,414.50 456.50,414.50 457.50,414.50 C458.50,414.50 459.42,414.50 460.50,414.50 C461.58,414.50 462.75,414.50 464.00,414.50 C465.25,414.50 465.83,414.48 468.00,414.50 C470.17,414.52 470.83,414.58 477.00,414.60 C483.17,414.62 497.00,414.60 505.00,414.60 C513.00,414.60 521.08,414.58 525.00,414.60 C528.92,414.62 527.50,414.68 528.50,414.71 C529.50,414.74 530.08,414.80 531.00,414.80 C531.92,414.79 532.83,414.67 534.00,414.68 C535.17,414.69 536.00,414.83 538.00,414.85 C540.00,414.87 542.83,414.80 546.00,414.81 C549.17,414.83 554.17,414.87 557.00,414.92 C559.83,414.97 561.17,415.07 563.00,415.10 C564.83,415.12 564.67,415.03 568.00,415.04 C571.33,415.06 580.50,415.17 583.00,415.20" fill="none" stroke="#7713f5" stroke-width="1.6"/>
<path d="M425.00,420.70 C427.00,420.70 433.83,420.70 437.00,420.70 C440.17,420.70 441.83,420.70 444.00,420.70 C446.17,420.70 448.25,420.70 450.00,420.70 C451.75,420.70 453.25,420.70 454.50,420.70 C455.75,420.70 456.50,420.70 457.50,420.70 C458.50,420.70 459.42,420.70 460.50,420.70 C461.58,420.70 462.75,420.70 464.00,420.70 C465.25,420.70 465.83,420.68 468.00,420.70 C470.17,420.72 470.83,420.78 477.00,420.80 C483.17,420.82 497.00,420.80 505.00,420.80 C513.00,420.80 521.08,420.78 525.00,420.80 C528.92,420.82 527.50,420.88 528.50,420.91 C529.50,420.94 530.08,421.00 531.00,421.00 C531.92,420.99 532.83,420.87 534.00,420.88 C535.17,420.89 536.00,421.03 538.00,421.05 C540.00,421.07 542.83,421.00 546.00,421.01 C549.17,421.03 554.17,421.07 557.00,421.12 C559.83,421.17 561.17,421.27 563.00,421.30 C564.83,421.32 564.67,421.23 568.00,421.24 C571.33,421.26 580.50,421.37 583.00,421.40" fill="none" stroke="#8813f5" stroke-width="1.6"/>
<path d="M425.00,426.50 C427.00,426.50 433.83,426.50 437.00,426.50 C440.17,426.50 441.83,426.50 444.00,426.50 C446.17,426.50 448.25,426.50 450.00,426.50 C451.75,426.50 453.25,426.50 454.50,426.50 C455.75,426.50 456.50,426.50 457.50,426.50 C458.50,426.50 459.42,426.50 460.50,426.50 C461.58,426.50 462.75,426.50 464.00,426.50 C465.25,426.50 465.83,426.48 468.00,426.50 C470.17,426.52 470.83,426.58 477.00,426.60 C483.17,426.62 497.00,426.60 505.00,426.60 C513.00,426.60 521.08,426.58 525.00,426.60 C528.92,426.62 527.50,426.68 528.50,426.71 C529.50,426.74 530.08,426.80 531.00,426.80 C531.92,426.79 532.83,426.67 534.00,426.68 C535.17,426.69 536.00,426.83 538.00,426.85 C540.00,426.87 542.83,426.80 546.00,426.81 C549.17,426.83 554.17,426.87 557.00,426.92 C559.83,426.97 561.17,427.07 563.00,427.10 C564.83,427.12 564.67,427.03 568.00,427.04 C571.33,427.06 580.50,427.17 583.00,427.20" fill="none" stroke="#9913f5" stroke-width="1.6"/>
<path d="M425.00,432.40 C427.00,432.40 433.83,432.40 437.00,432.40 C440.17,432.40 441.83,432.40 444.00,432.40 C446.17,432.40 448.25,432.40 450.00,432.40 C451.75,432.40 453.25,432.40 454.50,432.40 C455.75,432.40 456.50,432.40 457.50,432.40 C458.50,432.40 459.42,432.40 460.50,432.40 C461.58,432.40 462.75,432.40 464.00,432.40 C465.25,432.40 465.83,432.38 468.00,432.40 C470.17,432.42 470.83,432.48 477.00,432.50 C483.17,432.52 497.00,432.50 505.00,432.50 C513.00,432.50 521.08,432.48 525.00,432.50 C528.92,432.52 527.50,432.58 528.50,432.61 C529.50,432.64 530.08,432.70 531.00,432.69 C531.92,432.69 532.83,432.57 534.00,432.58 C535.17,432.59 536.00,432.73 538.00,432.75 C540.00,432.77 542.83,432.70 546.00,432.71 C549.17,432.73 554.17,432.77 557.00,432.82 C559.83,432.87 561.17,432.97 563.00,433.00 C564.83,433.02 564.67,432.93 568.00,432.94 C571.33,432.96 580.50,433.07 583.00,433.10" fill="none" stroke="#aa13f5" stroke-width="1.6"/>
<rect x="425" y="182" width="158" height="273.3" fill="none" stroke="#000" stroke-width="1.5"/>
<line x1="457.6" y1="210" x2="457.6" y2="371.4" stroke="#000" stroke-width="1.6" stroke-dasharray="1.6,1.65"/>
<line x1="534" y1="218" x2="534" y2="373" stroke="#000" stroke-width="1.6" stroke-dasharray="1.6,1.65"/>
<line x1="568.2" y1="226" x2="568.2" y2="376" stroke="#000" stroke-width="1.6" stroke-dasharray="1.6,1.65"/>
<rect x="495.7" y="212.9" width="24.5" height="40.6" rx="4" fill="none" stroke="#444" stroke-width="1.4" stroke-dasharray="4,2.5"/>
<text x="459" y="195.8" font-size="9.6" text-anchor="middle">*H<tspan dy="2.2" font-size="6">2</tspan><tspan dy="-2.2">O</tspan></text>
<text x="464" y="208" font-size="9.3" text-anchor="middle">1650 cm<tspan dy="-3.5" font-size="6">-1</tspan></text>
<text x="530" y="194.8" font-size="9.3" text-anchor="middle" fill="#000" >*OOH</text>
<text x="532" y="206.7" font-size="9.3" text-anchor="middle">1245 cm<tspan dy="-3.5" font-size="6">-1</tspan></text>
<text x="566.5" y="212.3" font-size="9.3" text-anchor="middle">*O<tspan dy="2" font-size="6">2</tspan><tspan dy="-5" font-size="6">-</tspan></text>
<text x="563" y="221.5" font-size="9.3" text-anchor="middle">1079 cm<tspan dy="-3.5" font-size="6">-1</tspan></text>
<line x1="425.0" y1="455.3" x2="425.0" y2="458.3" stroke="#000" stroke-width="1.3"/>
<text x="425.0" y="467.3" font-size="9" text-anchor="middle" fill="#000" >1800</text>
<line x1="464.5" y1="455.3" x2="464.5" y2="458.3" stroke="#000" stroke-width="1.3"/>
<text x="464.5" y="467.3" font-size="9" text-anchor="middle" fill="#000" >1600</text>
<line x1="504.0" y1="455.3" x2="504.0" y2="458.3" stroke="#000" stroke-width="1.3"/>
<text x="504.0" y="467.3" font-size="9" text-anchor="middle" fill="#000" >1400</text>
<line x1="543.5" y1="455.3" x2="543.5" y2="458.3" stroke="#000" stroke-width="1.3"/>
<text x="543.5" y="467.3" font-size="9" text-anchor="middle" fill="#000" >1200</text>
<line x1="583.0" y1="455.3" x2="583.0" y2="458.3" stroke="#000" stroke-width="1.3"/>
<text x="583.0" y="467.3" font-size="9" text-anchor="middle" fill="#000" >1000</text>
<line x1="444.75" y1="455.3" x2="444.75" y2="457.1" stroke="#000" stroke-width="1"/>
<line x1="484.25" y1="455.3" x2="484.25" y2="457.1" stroke="#000" stroke-width="1"/>
<line x1="523.75" y1="455.3" x2="523.75" y2="457.1" stroke="#000" stroke-width="1"/>
<line x1="563.25" y1="455.3" x2="563.25" y2="457.1" stroke="#000" stroke-width="1"/>
<text x="513.1" y="480" font-size="10.65" text-anchor="middle">Wavenumber (cm<tspan dy="-3.8" font-size="6.4">-1</tspan><tspan dy="3.8">)</tspan></text>
<text transform="translate(420.4,304.1) rotate(-90)" font-size="10.4" text-anchor="middle">Absorbance</text>
<rect x="593.2" y="219.6" width="5.8" height="199" fill="url(#rainbow)"/>
<text transform="translate(591.9,205.9) rotate(90)" font-size="9.8" text-anchor="middle">0.05 V</text>
<text transform="translate(591.9,434.7) rotate(90)" font-size="9.8" text-anchor="middle">1.0 V</text>
<path d="M607.80,239.50 C608.50,239.45 610.47,239.15 612.00,239.20 C613.53,239.25 614.83,239.33 617.00,239.80 C619.17,240.27 622.83,241.47 625.00,242.00 C627.17,242.53 628.50,242.58 630.00,243.00 C631.50,243.42 632.67,244.58 634.00,244.50 C635.33,244.42 636.33,243.08 638.00,242.50 C639.67,241.92 642.00,241.50 644.00,241.00 C646.00,240.50 648.00,239.83 650.00,239.50 C652.00,239.17 654.17,238.92 656.00,239.00 C657.83,239.08 659.43,239.62 661.00,240.00 C662.57,240.38 664.67,241.08 665.40,241.30" fill="none" stroke="#ff0800" stroke-width="1.6"/>
<path d="M607.80,273.50 C608.50,273.45 610.47,273.15 612.00,273.20 C613.53,273.25 614.83,273.33 617.00,273.80 C619.17,274.27 622.83,275.47 625.00,276.00 C627.17,276.53 628.50,276.58 630.00,277.00 C631.50,277.42 632.67,278.58 634.00,278.50 C635.33,278.42 636.33,277.08 638.00,276.50 C639.67,275.92 642.00,275.50 644.00,275.00 C646.00,274.50 648.00,273.83 650.00,273.50 C652.00,273.17 654.17,272.92 656.00,273.00 C657.83,273.08 659.43,273.62 661.00,274.00 C662.57,274.38 664.67,275.08 665.40,275.30" fill="none" stroke="#ff1b00" stroke-width="1.6"/>
<path d="M607.80,306.60 C608.50,306.55 610.47,306.25 612.00,306.30 C613.53,306.35 614.83,306.43 617.00,306.90 C619.17,307.37 622.83,308.57 625.00,309.10 C627.17,309.63 628.50,309.68 630.00,310.10 C631.50,310.52 632.67,311.68 634.00,311.60 C635.33,311.52 636.33,310.18 638.00,309.60 C639.67,309.02 642.00,308.60 644.00,308.10 C646.00,307.60 648.00,306.93 650.00,306.60 C652.00,306.27 654.17,306.02 656.00,306.10 C657.83,306.18 659.43,306.72 661.00,307.10 C662.57,307.48 664.67,308.18 665.40,308.40" fill="none" stroke="#ff2e00" stroke-width="1.6"/>
<path d="M607.80,339.70 C608.50,339.65 610.47,339.35 612.00,339.40 C613.53,339.45 614.83,339.53 617.00,340.00 C619.17,340.47 622.83,341.67 625.00,342.20 C627.17,342.73 628.50,342.78 630.00,343.20 C631.50,343.62 632.67,344.78 634.00,344.70 C635.33,344.62 636.33,343.28 638.00,342.70 C639.67,342.12 642.00,341.70 644.00,341.20 C646.00,340.70 648.00,340.03 650.00,339.70 C652.00,339.37 654.17,339.12 656.00,339.20 C657.83,339.28 659.43,339.82 661.00,340.20 C662.57,340.58 664.67,341.28 665.40,341.50" fill="none" stroke="#ff4100" stroke-width="1.6"/>
<path d="M607.80,372.90 C608.50,372.85 610.47,372.55 612.00,372.60 C613.53,372.65 614.83,372.73 617.00,373.20 C619.17,373.67 622.83,374.87 625.00,375.40 C627.17,375.93 628.50,375.98 630.00,376.40 C631.50,376.82 632.67,377.98 634.00,377.90 C635.33,377.82 636.33,376.48 638.00,375.90 C639.67,375.32 642.00,374.90 644.00,374.40 C646.00,373.90 648.00,373.23 650.00,372.90 C652.00,372.57 654.17,372.32 656.00,372.40 C657.83,372.48 659.43,373.02 661.00,373.40 C662.57,373.78 664.67,374.48 665.40,374.70" fill="none" stroke="#ff5500" stroke-width="1.6"/>
<path d="M607.80,407.40 C608.50,407.35 610.47,407.05 612.00,407.10 C613.53,407.15 614.83,407.23 617.00,407.70 C619.17,408.17 622.83,409.37 625.00,409.90 C627.17,410.43 628.50,410.48 630.00,410.90 C631.50,411.32 632.67,412.48 634.00,412.40 C635.33,412.32 636.33,410.98 638.00,410.40 C639.67,409.82 642.00,409.40 644.00,408.90 C646.00,408.40 648.00,407.73 650.00,407.40 C652.00,407.07 654.17,406.82 656.00,406.90 C657.83,406.98 659.43,407.52 661.00,407.90 C662.57,408.28 664.67,408.98 665.40,409.20" fill="none" stroke="#ff6800" stroke-width="1.6"/>
<path d="M607.80,440.50 C608.50,440.45 610.47,440.15 612.00,440.20 C613.53,440.25 614.83,440.33 617.00,440.80 C619.17,441.27 622.83,442.47 625.00,443.00 C627.17,443.53 628.50,443.58 630.00,444.00 C631.50,444.42 632.67,445.58 634.00,445.50 C635.33,445.42 636.33,444.08 638.00,443.50 C639.67,442.92 642.00,442.50 644.00,442.00 C646.00,441.50 648.00,440.83 650.00,440.50 C652.00,440.17 654.17,439.92 656.00,440.00 C657.83,440.08 659.43,440.62 661.00,441.00 C662.57,441.38 664.67,442.08 665.40,442.30" fill="none" stroke="#ff7b00" stroke-width="1.6"/>
<rect x="607.8" y="182.6" width="57.60000000000002" height="273.70000000000005" fill="none" stroke="#000" stroke-width="1.5"/>
<line x1="638" y1="234" x2="638" y2="450" stroke="#000" stroke-width="1.6" stroke-dasharray="1.6,1.65"/>
<text x="637.5" y="216.4" font-size="9.3" text-anchor="middle" fill="#000" >*HOOH</text>
<text x="641.5" y="227.5" font-size="9.3" text-anchor="middle">1393 cm<tspan dy="-3.5" font-size="6">-1</tspan></text>
<line x1="607.8" y1="456.3" x2="607.8" y2="459.3" stroke="#000" stroke-width="1.3"/>
<text x="607.8" y="467.5" font-size="9" text-anchor="middle" fill="#000" >1500</text>
<line x1="637.0" y1="456.3" x2="637.0" y2="459.3" stroke="#000" stroke-width="1.3"/>
<text x="637.0" y="467.5" font-size="9" text-anchor="middle" fill="#000" >1400</text>
<line x1="665.4" y1="456.3" x2="665.4" y2="459.3" stroke="#000" stroke-width="1.3"/>
<text x="665.4" y="467.5" font-size="9" text-anchor="middle" fill="#000" >1300</text>
<line x1="622.4" y1="456.3" x2="622.4" y2="458.1" stroke="#000" stroke-width="1"/>
<line x1="651.2" y1="456.3" x2="651.2" y2="458.1" stroke="#000" stroke-width="1"/>
<text x="594" y="481.5" font-size="10.65">Wavenumber (cm<tspan dy="-3.8" font-size="6.4">-1</tspan><tspan dy="3.8">)</tspan></text>
<text x="207.6" y="182.3" font-size="19.5" text-anchor="start" fill="#000" >c</text>
<line x1="291.5" y1="186.6" x2="329.7" y2="186.6" stroke="#c8a090" stroke-width="2.2" opacity="0.5"/>
<line x1="329.7" y1="186.6" x2="340.5" y2="182.6" stroke="#b88878" stroke-width="0.8" opacity="0.7"/>
<line x1="329.7" y1="186.6" x2="341.5" y2="191.0" stroke="#b88878" stroke-width="0.8" opacity="0.7"/>
<g filter="url(#blur03)"><ellipse cx="291.4" cy="186.3" rx="2.1" ry="1.0" transform="rotate(0 291.4 186.3)" fill="#7a4536"/><ellipse cx="297.3" cy="186.4" rx="2.1" ry="1.1" transform="rotate(0 297.3 186.4)" fill="#7a4536"/><ellipse cx="300.4" cy="187.0" rx="1.5" ry="1.1" transform="rotate(0 300.4 187.0)" fill="#6b3a2e"/><ellipse cx="303.0" cy="186.5" rx="1.7" ry="1.4" transform="rotate(0 303.0 186.5)" fill="#8c5546"/><ellipse cx="306.3" cy="186.7" rx="2.0" ry="1.3" transform="rotate(0 306.3 186.7)" fill="#8c5546"/><ellipse cx="309.1" cy="186.6" rx="1.9" ry="1.2" transform="rotate(0 309.1 186.6)" fill="#6b3a2e"/><ellipse cx="312.3" cy="186.8" rx="1.7" ry="1.2" transform="rotate(0 312.3 186.8)" fill="#8c5546"/><ellipse cx="318.0" cy="186.3" rx="1.8" ry="1.5" transform="rotate(0 318.0 186.3)" fill="#6b3a2e"/><circle cx="318.1" cy="186.9" r="0.6" fill="#8aa0d0"/><ellipse cx="321.1" cy="186.5" rx="1.9" ry="1.2" transform="rotate(0 321.1 186.5)" fill="#6b3a2e"/><ellipse cx="324.2" cy="186.6" rx="2.0" ry="1.2" transform="rotate(0 324.2 186.6)" fill="#7a4536"/><ellipse cx="326.9" cy="186.6" rx="1.5" ry="1.2" transform="rotate(0 326.9 186.6)" fill="#9a5e4c"/><ellipse cx="329.4" cy="186.2" rx="2.0" ry="1.2" transform="rotate(0 329.4 186.2)" fill="#8c5546"/><ellipse cx="329.7" cy="186.3" rx="2.1" ry="1.4" transform="rotate(-20 329.7 186.3)" fill="#9a5e4c"/><ellipse cx="332.2" cy="185.5" rx="2.2" ry="1.1" transform="rotate(-20 332.2 185.5)" fill="#6b3a2e"/><ellipse cx="334.9" cy="184.4" rx="1.6" ry="1.1" transform="rotate(-20 334.9 184.4)" fill="#8c5546"/><circle cx="335.0" cy="184.6" r="0.6" fill="#8aa0d0"/><ellipse cx="337.7" cy="183.3" rx="2.0" ry="1.4" transform="rotate(-20 337.7 183.3)" fill="#8c5546"/><ellipse cx="340.8" cy="183.0" rx="1.8" ry="1.2" transform="rotate(-20 340.8 183.0)" fill="#8c5546"/><circle cx="341.1" cy="182.1" r="0.6" fill="#8aa0d0"/><ellipse cx="329.4" cy="186.4" rx="1.9" ry="1.1" transform="rotate(20 329.4 186.4)" fill="#9a5e4c"/><ellipse cx="332.7" cy="188.1" rx="2.1" ry="1.3" transform="rotate(20 332.7 188.1)" fill="#7a4536"/><circle cx="332.2" cy="187.8" r="0.6" fill="#8aa0d0"/><ellipse cx="335.5" cy="188.5" rx="1.8" ry="1.2" transform="rotate(20 335.5 188.5)" fill="#6b3a2e"/><circle cx="336.0" cy="189.0" r="0.6" fill="#8aa0d0"/><ellipse cx="338.5" cy="190.1" rx="2.2" ry="1.3" transform="rotate(20 338.5 190.1)" fill="#8c5546"/><circle cx="338.6" cy="189.1" r="0.6" fill="#8aa0d0"/><ellipse cx="341.5" cy="191.4" rx="1.9" ry="1.5" transform="rotate(20 341.5 191.4)" fill="#9a5e4c"/></g>
<line x1="228.8" y1="232.4" x2="271" y2="232.4" stroke="#c8a090" stroke-width="2.2" opacity="0.5"/>
<line x1="271" y1="232.4" x2="286" y2="228.8" stroke="#b88878" stroke-width="0.8" opacity="0.7"/>
<line x1="271" y1="232.4" x2="287" y2="235.8" stroke="#b88878" stroke-width="0.8" opacity="0.7"/>
<g filter="url(#blur03)"><ellipse cx="228.6" cy="232.4" rx="1.9" ry="1.4" transform="rotate(0 228.6 232.4)" fill="#8c5546"/><ellipse cx="231.6" cy="232.2" rx="1.6" ry="1.2" transform="rotate(0 231.6 232.2)" fill="#8c5546"/><ellipse cx="235.2" cy="232.6" rx="2.0" ry="1.5" transform="rotate(0 235.2 232.6)" fill="#8c5546"/><ellipse cx="238.2" cy="232.8" rx="1.6" ry="1.1" transform="rotate(0 238.2 232.8)" fill="#9a5e4c"/><ellipse cx="240.7" cy="232.4" rx="2.1" ry="1.2" transform="rotate(0 240.7 232.4)" fill="#8c5546"/><ellipse cx="244.1" cy="232.1" rx="2.0" ry="1.4" transform="rotate(0 244.1 232.1)" fill="#6b3a2e"/><ellipse cx="246.6" cy="232.6" rx="1.8" ry="1.4" transform="rotate(0 246.6 232.6)" fill="#6b3a2e"/><circle cx="245.9" cy="233.6" r="0.6" fill="#8aa0d0"/><ellipse cx="249.5" cy="232.5" rx="1.9" ry="1.3" transform="rotate(0 249.5 232.5)" fill="#8c5546"/><ellipse cx="253.3" cy="232.1" rx="1.5" ry="1.5" transform="rotate(0 253.3 232.1)" fill="#7a4536"/><ellipse cx="255.9" cy="232.7" rx="2.1" ry="1.1" transform="rotate(0 255.9 232.7)" fill="#8c5546"/><ellipse cx="258.8" cy="232.2" rx="1.9" ry="1.4" transform="rotate(0 258.8 232.2)" fill="#9a5e4c"/><circle cx="259.3" cy="233.0" r="0.6" fill="#8aa0d0"/><ellipse cx="262.1" cy="232.7" rx="1.6" ry="1.1" transform="rotate(0 262.1 232.7)" fill="#8c5546"/><ellipse cx="265.3" cy="232.6" rx="1.6" ry="1.2" transform="rotate(0 265.3 232.6)" fill="#8c5546"/><ellipse cx="268.0" cy="232.3" rx="1.8" ry="1.4" transform="rotate(0 268.0 232.3)" fill="#8c5546"/><ellipse cx="274.3" cy="231.3" rx="1.9" ry="1.1" transform="rotate(-13 274.3 231.3)" fill="#8c5546"/><ellipse cx="277.0" cy="231.2" rx="2.0" ry="1.4" transform="rotate(-13 277.0 231.2)" fill="#8c5546"/><ellipse cx="279.8" cy="230.3" rx="1.6" ry="1.1" transform="rotate(-13 279.8 230.3)" fill="#6b3a2e"/><ellipse cx="286.1" cy="229.0" rx="2.2" ry="1.3" transform="rotate(-13 286.1 229.0)" fill="#8c5546"/><ellipse cx="270.8" cy="232.1" rx="1.8" ry="1.2" transform="rotate(12 270.8 232.1)" fill="#7a4536"/><ellipse cx="273.9" cy="232.7" rx="1.8" ry="1.2" transform="rotate(12 273.9 232.7)" fill="#8c5546"/><ellipse cx="276.0" cy="233.4" rx="1.8" ry="1.0" transform="rotate(12 276.0 233.4)" fill="#6b3a2e"/><ellipse cx="282.1" cy="234.9" rx="1.6" ry="1.1" transform="rotate(12 282.1 234.9)" fill="#7a4536"/><ellipse cx="284.1" cy="235.4" rx="1.8" ry="1.3" transform="rotate(12 284.1 235.4)" fill="#9a5e4c"/><ellipse cx="287.0" cy="235.7" rx="1.8" ry="1.0" transform="rotate(12 287.0 235.7)" fill="#8c5546"/></g>
<line x1="263" y1="228.4" x2="263" y2="232.4" stroke="#a07060" stroke-width="0.8"/>
<circle cx="263" cy="228.4" r="1.1" fill="#e03030"/>
<line x1="343.8" y1="231" x2="402.2" y2="231" stroke="#c8a090" stroke-width="2.2" opacity="0.5"/>
<g filter="url(#blur03)"><ellipse cx="347.0" cy="230.7" rx="1.5" ry="1.5" transform="rotate(0 347.0 230.7)" fill="#6b3a2e"/><ellipse cx="352.7" cy="231.4" rx="1.5" ry="1.1" transform="rotate(0 352.7 231.4)" fill="#9a5e4c"/><ellipse cx="355.3" cy="231.2" rx="2.0" ry="1.1" transform="rotate(0 355.3 231.2)" fill="#8c5546"/><ellipse cx="361.3" cy="231.4" rx="2.2" ry="1.1" transform="rotate(0 361.3 231.4)" fill="#8c5546"/><ellipse cx="364.2" cy="231.0" rx="2.2" ry="1.2" transform="rotate(0 364.2 231.0)" fill="#6b3a2e"/><ellipse cx="366.9" cy="230.8" rx="1.8" ry="1.2" transform="rotate(0 366.9 230.8)" fill="#8c5546"/><circle cx="366.2" cy="229.9" r="0.6" fill="#8aa0d0"/><ellipse cx="370.3" cy="230.8" rx="2.0" ry="1.2" transform="rotate(0 370.3 230.8)" fill="#7a4536"/><ellipse cx="373.4" cy="231.1" rx="1.8" ry="1.1" transform="rotate(0 373.4 231.1)" fill="#7a4536"/><ellipse cx="375.7" cy="231.4" rx="1.7" ry="1.0" transform="rotate(0 375.7 231.4)" fill="#8c5546"/><ellipse cx="378.6" cy="230.7" rx="1.8" ry="1.3" transform="rotate(0 378.6 230.7)" fill="#7a4536"/><ellipse cx="381.8" cy="230.6" rx="1.6" ry="1.3" transform="rotate(0 381.8 230.6)" fill="#7a4536"/><ellipse cx="388.0" cy="231.3" rx="1.8" ry="1.2" transform="rotate(0 388.0 231.3)" fill="#8c5546"/><ellipse cx="390.2" cy="231.2" rx="2.1" ry="1.4" transform="rotate(0 390.2 231.2)" fill="#7a4536"/><ellipse cx="393.4" cy="231.2" rx="2.0" ry="1.3" transform="rotate(0 393.4 231.2)" fill="#8c5546"/><ellipse cx="396.0" cy="231.1" rx="1.6" ry="1.0" transform="rotate(0 396.0 231.1)" fill="#8c5546"/><ellipse cx="399.6" cy="230.9" rx="1.9" ry="1.3" transform="rotate(0 399.6 230.9)" fill="#7a4536"/><ellipse cx="402.2" cy="230.6" rx="2.1" ry="1.0" transform="rotate(0 402.2 230.6)" fill="#8c5546"/></g>
<line x1="374.6" y1="228.2" x2="374.6" y2="231" stroke="#a07060" stroke-width="0.8"/>
<circle cx="374.6" cy="228.2" r="1.1" fill="#e03030"/>
<circle cx="380.7" cy="235.5" r="1.02" fill="#8c5546"/>
<circle cx="377.1" cy="236.7" r="0.79" fill="#6b3a2e"/>
<circle cx="382.3" cy="235.6" r="0.85" fill="#8c5546"/>
<circle cx="381.9" cy="234.7" r="0.72" fill="#6b3a2e"/>
<circle cx="380.0" cy="233.7" r="0.76" fill="#8c5546"/>
<circle cx="380.1" cy="236.4" r="0.95" fill="#7a4536"/>
<circle cx="375.6" cy="233.7" r="0.81" fill="#6b3a2e"/>
<circle cx="376.2" cy="234.4" r="0.90" fill="#6b3a2e"/>
<circle cx="379.1" cy="235.4" r="0.89" fill="#7a4536"/>
<circle cx="382.5" cy="235.8" r="0.82" fill="#7a4536"/>
<circle cx="382.1" cy="233.5" r="0.88" fill="#6b3a2e"/>
<circle cx="382.3" cy="235.4" r="0.81" fill="#7a4536"/>
<circle cx="381.9" cy="237.5" r="0.73" fill="#7a4536"/>
<circle cx="376.5" cy="235.7" r="1.08" fill="#7a4536"/>
<line x1="236.6" y1="293.2" x2="281" y2="293.2" stroke="#c8a090" stroke-width="2.2" opacity="0.5"/>
<line x1="281" y1="293.2" x2="294.5" y2="289.2" stroke="#b88878" stroke-width="0.8" opacity="0.7"/>
<line x1="281" y1="293.2" x2="295.5" y2="298.2" stroke="#b88878" stroke-width="0.8" opacity="0.7"/>
<g filter="url(#blur03)"><ellipse cx="236.7" cy="293.3" rx="2.0" ry="1.1" transform="rotate(0 236.7 293.3)" fill="#7a4536"/><ellipse cx="242.5" cy="293.2" rx="1.8" ry="1.2" transform="rotate(0 242.5 293.2)" fill="#8c5546"/><circle cx="242.2" cy="292.8" r="0.6" fill="#8aa0d0"/><ellipse cx="245.4" cy="293.1" rx="2.0" ry="1.5" transform="rotate(0 245.4 293.1)" fill="#8c5546"/><ellipse cx="248.3" cy="293.1" rx="1.6" ry="1.5" transform="rotate(0 248.3 293.1)" fill="#8c5546"/><ellipse cx="254.5" cy="293.3" rx="1.8" ry="1.2" transform="rotate(0 254.5 293.3)" fill="#9a5e4c"/><ellipse cx="260.5" cy="293.1" rx="1.9" ry="1.4" transform="rotate(0 260.5 293.1)" fill="#8c5546"/><circle cx="261.0" cy="293.0" r="0.6" fill="#8aa0d0"/><ellipse cx="263.4" cy="293.3" rx="2.1" ry="1.3" transform="rotate(0 263.4 293.3)" fill="#7a4536"/><ellipse cx="266.1" cy="293.0" rx="1.8" ry="1.1" transform="rotate(0 266.1 293.0)" fill="#9a5e4c"/><ellipse cx="269.3" cy="292.9" rx="1.6" ry="1.5" transform="rotate(0 269.3 292.9)" fill="#7a4536"/><ellipse cx="271.9" cy="293.5" rx="1.8" ry="1.3" transform="rotate(0 271.9 293.5)" fill="#6b3a2e"/><ellipse cx="274.8" cy="293.2" rx="1.7" ry="1.3" transform="rotate(0 274.8 293.2)" fill="#9a5e4c"/><ellipse cx="278.2" cy="293.1" rx="1.6" ry="1.1" transform="rotate(0 278.2 293.1)" fill="#8c5546"/><ellipse cx="281.0" cy="293.3" rx="1.9" ry="1.4" transform="rotate(0 281.0 293.3)" fill="#8c5546"/><ellipse cx="280.7" cy="293.5" rx="1.8" ry="1.2" transform="rotate(-17 280.7 293.5)" fill="#6b3a2e"/><ellipse cx="284.1" cy="292.1" rx="2.2" ry="1.2" transform="rotate(-17 284.1 292.1)" fill="#6b3a2e"/><circle cx="284.9" cy="293.0" r="0.6" fill="#8aa0d0"/><ellipse cx="286.4" cy="291.6" rx="1.7" ry="1.1" transform="rotate(-17 286.4 291.6)" fill="#7a4536"/><ellipse cx="288.8" cy="291.1" rx="1.6" ry="1.4" transform="rotate(-17 288.8 291.1)" fill="#6b3a2e"/><circle cx="288.0" cy="291.2" r="0.6" fill="#8aa0d0"/><ellipse cx="291.4" cy="290.2" rx="1.9" ry="1.2" transform="rotate(-17 291.4 290.2)" fill="#9a5e4c"/><ellipse cx="294.2" cy="289.0" rx="1.8" ry="1.1" transform="rotate(-17 294.2 289.0)" fill="#8c5546"/><ellipse cx="280.6" cy="293.0" rx="2.0" ry="1.4" transform="rotate(19 280.6 293.0)" fill="#9a5e4c"/><ellipse cx="283.7" cy="294.0" rx="1.5" ry="1.1" transform="rotate(19 283.7 294.0)" fill="#9a5e4c"/><ellipse cx="286.9" cy="294.9" rx="2.1" ry="1.1" transform="rotate(19 286.9 294.9)" fill="#6b3a2e"/><circle cx="286.6" cy="294.7" r="0.6" fill="#8aa0d0"/><ellipse cx="289.8" cy="296.0" rx="1.5" ry="1.2" transform="rotate(19 289.8 296.0)" fill="#8c5546"/><ellipse cx="292.8" cy="297.0" rx="2.0" ry="1.1" transform="rotate(19 292.8 297.0)" fill="#9a5e4c"/><ellipse cx="295.5" cy="297.9" rx="2.1" ry="1.0" transform="rotate(19 295.5 297.9)" fill="#6b3a2e"/></g>
<line x1="332.4" y1="293.4" x2="374" y2="293.4" stroke="#c8a090" stroke-width="2.2" opacity="0.5"/>
<line x1="374" y1="293.4" x2="388" y2="289.4" stroke="#b88878" stroke-width="0.8" opacity="0.7"/>
<line x1="374" y1="293.4" x2="389" y2="298.4" stroke="#b88878" stroke-width="0.8" opacity="0.7"/>
<g filter="url(#blur03)"><ellipse cx="335.4" cy="293.3" rx="1.8" ry="1.4" transform="rotate(0 335.4 293.3)" fill="#8c5546"/><ellipse cx="338.5" cy="293.8" rx="1.6" ry="1.3" transform="rotate(0 338.5 293.8)" fill="#9a5e4c"/><ellipse cx="341.3" cy="293.2" rx="2.2" ry="1.2" transform="rotate(0 341.3 293.2)" fill="#9a5e4c"/><circle cx="340.4" cy="292.4" r="0.6" fill="#8aa0d0"/><ellipse cx="344.2" cy="293.7" rx="1.8" ry="1.4" transform="rotate(0 344.2 293.7)" fill="#8c5546"/><ellipse cx="347.5" cy="293.1" rx="1.8" ry="1.5" transform="rotate(0 347.5 293.1)" fill="#8c5546"/><ellipse cx="353.1" cy="293.6" rx="1.8" ry="1.2" transform="rotate(0 353.1 293.6)" fill="#7a4536"/><ellipse cx="359.2" cy="293.3" rx="1.5" ry="1.4" transform="rotate(0 359.2 293.3)" fill="#8c5546"/><ellipse cx="362.5" cy="293.2" rx="2.1" ry="1.3" transform="rotate(0 362.5 293.2)" fill="#8c5546"/><ellipse cx="364.7" cy="293.2" rx="2.2" ry="1.2" transform="rotate(0 364.7 293.2)" fill="#6b3a2e"/><ellipse cx="368.0" cy="293.4" rx="1.5" ry="1.5" transform="rotate(0 368.0 293.4)" fill="#8c5546"/><ellipse cx="371.2" cy="293.1" rx="1.8" ry="1.4" transform="rotate(0 371.2 293.1)" fill="#9a5e4c"/><ellipse cx="374.0" cy="293.3" rx="1.5" ry="1.0" transform="rotate(0 374.0 293.3)" fill="#6b3a2e"/><ellipse cx="373.9" cy="293.8" rx="1.7" ry="1.0" transform="rotate(-16 373.9 293.8)" fill="#7a4536"/><circle cx="373.9" cy="294.2" r="0.6" fill="#8aa0d0"/><ellipse cx="376.8" cy="292.4" rx="2.1" ry="1.1" transform="rotate(-16 376.8 292.4)" fill="#8c5546"/><ellipse cx="379.8" cy="292.0" rx="1.7" ry="1.3" transform="rotate(-16 379.8 292.0)" fill="#9a5e4c"/><ellipse cx="382.6" cy="290.8" rx="1.7" ry="1.1" transform="rotate(-16 382.6 290.8)" fill="#8c5546"/><ellipse cx="385.0" cy="289.9" rx="1.9" ry="1.1" transform="rotate(-16 385.0 289.9)" fill="#8c5546"/><ellipse cx="374.0" cy="293.7" rx="1.5" ry="1.1" transform="rotate(18 374.0 293.7)" fill="#9a5e4c"/><circle cx="373.4" cy="294.6" r="0.6" fill="#8aa0d0"/><ellipse cx="376.6" cy="294.6" rx="1.8" ry="1.1" transform="rotate(18 376.6 294.6)" fill="#8c5546"/><ellipse cx="379.4" cy="294.8" rx="1.7" ry="1.0" transform="rotate(18 379.4 294.8)" fill="#8c5546"/><ellipse cx="384.2" cy="297.1" rx="1.8" ry="1.2" transform="rotate(18 384.2 297.1)" fill="#9a5e4c"/><ellipse cx="386.2" cy="297.2" rx="1.5" ry="1.1" transform="rotate(18 386.2 297.2)" fill="#6b3a2e"/></g>
<line x1="364.3" y1="289.6" x2="364.3" y2="293.4" stroke="#a07060" stroke-width="0.8"/>
<circle cx="364.3" cy="289.6" r="1.1" fill="#e03030"/>
<path d="M253.2,222.4 Q262,198 283,191.3" fill="none" stroke="#f07a3a" stroke-width="1.4"/>
<path d="M286.0,190.1 L280.3,194.8 L281.1,191.9 L278.6,190.3 Z" fill="#f07a3a"/>
<path d="M260.4,286.2 Q250,268 248.3,250" fill="none" stroke="#f07a3a" stroke-width="1.4"/>
<path d="M248.1,244.1 L251.8,250.5 L249.1,249.2 L247.1,251.4 Z" fill="#f07a3a"/>
<path d="M344.9,302.3 Q318,318 286,304.5" fill="none" stroke="#f07a3a" stroke-width="1.4"/>
<path d="M281.6,302.7 L289.0,303.1 L286.4,304.6 L287.2,307.5 Z" fill="#f07a3a"/>
<path d="M351.2,285.8 Q305,245 315,200" fill="none" stroke="#3d93dc" stroke-width="1.4"/>
<path d="M315.3,194.6 L316.3,201.9 L314.3,199.7 L311.6,201.0 Z" fill="#3d93dc"/>
<path d="M341.2,189.6 Q363,197 372.3,217" fill="none" stroke="#111" stroke-width="1.4"/>
<path d="M373.7,222.2 L369.1,216.4 L372.0,217.3 L373.7,214.8 Z" fill="#111"/>
<path d="M378.4,243.4 L378.4,254 Q377.5,268 370.3,279.5" fill="none" stroke="#111" stroke-width="1.4"/>
<path d="M368.3,285.1 L368.7,277.7 L370.2,280.3 L373.1,279.5 Z" fill="#111"/>
<path d="M359.5,199.6 Q360.6,197.5 360.3,195.2" fill="none" stroke="#111" stroke-width="1.2"/>
<path d="M378.4,257.5 Q380,254.2 384.6,254.2" fill="none" stroke="#111" stroke-width="1.2"/>
<path d="M377.9,260.8 Q376.5,265.6 369.1,265.2" fill="none" stroke="#111" stroke-width="1.2"/>
<path d="M268,192.1 Q271.6,199 268.8,202 Q267.2,206 268.2,210" fill="none" stroke="#111" stroke-width="1.2"/>
<path d="M242.3,263.1 Q248,262 251,266 Q253,269 257.2,268.9" fill="none" stroke="#111" stroke-width="1.2"/>
<path d="M309.9,247.6 Q315,246 319,250 Q322,253 326.4,253.2" fill="none" stroke="#111" stroke-width="1.2"/>
<path d="M305.7,303.7 Q307,308.5 312.5,311 Q318,313 320.6,315.6" fill="none" stroke="#111" stroke-width="1.2"/>
<rect x="204.5" y="193.5" width="50.8" height="20.0" fill="#fff" stroke="#f07a3a" stroke-width="1.3"/>
<text x="209" y="209.2" font-size="12">4e<tspan dy="-4.5" font-size="7">-</tspan><tspan dy="4.5"> ORR</tspan></text>
<rect x="290.4" y="215.5" width="50.8" height="20.0" fill="#fff" stroke="#3d93dc" stroke-width="1.3"/>
<text x="294.8" y="230.3" font-size="12">2e<tspan dy="-4.5" font-size="7">-</tspan><tspan dy="4.5"> ORR</tspan></text>
<text x="255.9" y="189.3" font-size="8.8" text-anchor="start" fill="#000" >OH</text>
<text x="262.7" y="217.2" font-size="8.8">H<tspan dy="2" font-size="5.5">2</tspan><tspan dy="-2">O, e</tspan><tspan dy="-3.5" font-size="5.5">-</tspan></text>
<text x="359.4" y="192.7" font-size="8.8">O<tspan dy="2.5" font-size="5.5">2</tspan></text>
<text x="387.7" y="256.8" font-size="8.8">H<tspan dy="2" font-size="5.5">2</tspan><tspan dy="-2">O, e</tspan><tspan dy="-3.5" font-size="5.5">-</tspan></text>
<text x="351.8" y="268.7" font-size="8.8">OH<tspan dy="-3.5" font-size="5.5">-</tspan></text>
<text x="290.4" y="250.6" font-size="8.8">HO<tspan dy="2" font-size="5.5">2</tspan><tspan dy="-6" font-size="5.5">-</tspan></text>
<text x="330.5" y="254" font-size="8.8">e<tspan dy="-3.5" font-size="5.5">-</tspan></text>
<text x="224.1" y="265.1" font-size="8.8">OH<tspan dy="-3.5" font-size="5.5">-</tspan></text>
<text x="261.2" y="272.5" font-size="8.8">H<tspan dy="2" font-size="5.5">2</tspan><tspan dy="-2">O, e</tspan><tspan dy="-3.5" font-size="5.5">-</tspan></text>
<text x="298.6" y="300.8" font-size="8.8">OH<tspan dy="-3.5" font-size="5.5">-</tspan></text>
<text x="323.9" y="319.4" font-size="8.8">e<tspan dy="-3.5" font-size="5.5">-</tspan></text>
</svg>
</body></html>
